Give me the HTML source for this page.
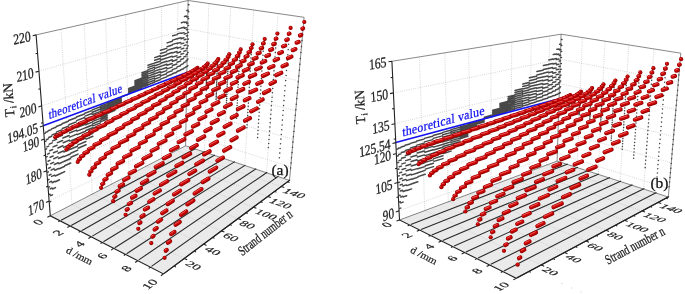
<!DOCTYPE html>
<html><head><meta charset="utf-8"><title>Strand tension 3D plots</title>
<style>
html,body{margin:0;padding:0;background:#fff}
body{width:685px;height:294px;overflow:hidden}
svg{display:block;font-family:"Liberation Serif",serif}
.r1{stroke:#960000;stroke-width:4.2;stroke-linecap:round;fill:none}
.r2{stroke:#ca0404;stroke-width:2.9;stroke-linecap:round;fill:none}
.r3{stroke:#ee5555;stroke-width:1;stroke-linecap:round;fill:none}
</style></head><body>
<svg width="685" height="294" viewBox="0 0 685 294">
<rect width="685" height="294" fill="#fff"/>
<polygon points="50.3,215.8 163.5,273.9 289.5,180.4 185.6,145.8" fill="#eaeaea"/>
<path d="M72,204.5 L184.3,258.4 M72,204.5 L61,29.2 M92.3,194 L203.6,244.1 M92.3,194 L84.2,24 M111.3,184.2 L221.4,230.9 M111.3,184.2 L105.6,19.2 M129.1,175 L238,218.6 M129.1,175 L125.6,14.6 M145.8,166.4 L253.4,207.2 M145.8,166.4 L144.2,10.4 M161.5,158.2 L267.8,196.5 M161.5,158.2 L161.6,6.5 M176.4,150.5 L281.2,186.5 M176.4,150.5 L178,2.8 M70.1,226 L204.4,152 M204.4,152 L208.8,3.5 M91.2,236.8 L224.1,158.6 M224.1,158.6 L230.7,6.7 M113.7,248.4 L244.8,165.5 M244.8,165.5 L253.8,10 M137.7,260.7 L266.5,172.7 M266.5,172.7 L278.2,13.6 M49.1,201.1 L185.8,133.7 L290.7,166.9 M46.7,170.7 L186.2,108.8 L293.2,139.3 M44.2,139 L186.7,83.1 L295.7,110.6 M41.6,105.8 L187.1,56.5 L298.4,80.7 M38.9,71.2 L187.6,29 L301.2,49.7" fill="none" stroke="#c4c4c4" stroke-width="0.7" stroke-dasharray="1 1.2"/>
<path d="M36.1,34.9 L188.1,0.5 L304.1,17.3 L289.5,180.4 M188.1,0.5 L185.6,145.8 M50.3,215.8 L185.6,145.8 L289.5,180.4" fill="none" stroke="#555" stroke-width="0.7"/>
<path d="M61.1,220.2 L195.6,148.5 M71.2,225.4 L205,151.6 M81.6,230.7 L214.8,154.9 M92.3,236.1 L224.7,158.2 M103.4,241.8 L234.9,161.6 M114.8,247.7 L245.4,165.1 M126.6,253.7 L256.2,168.6 M138.8,259.9 L267.2,172.3 M151.5,266.4 L278.5,176.1 M164.5,273.1 L290.1,179.9" fill="none" stroke="#2a2a2a" stroke-width="1.1"/>
<path d="M44.7,133.4 L45.4,133.1 M45.8,132.3 L47.7,131.6 M48.2,130.8 L51.2,129.6 M51.6,128.9 L55.9,127.3 M56.3,126.5 L61.6,124.5 M62,123.7 L68.3,121.3 M68.7,120.5 L76,117.8 M76.4,117 L84.5,114 M84.9,113.2 L91.8,110.6 M92.2,109.9 L99.9,107 M100.3,106.3 L106.8,103.8 M107.2,103.1 L114.6,100.4 M114.9,99.7 L121.1,97.4 M121.5,96.7 L128.5,94.1 M128.9,93.4 L134.8,91.2 M135.1,90.5 L141.8,88.1 M142.1,87.4 L147.8,85.3 M148.1,84.7 L154.5,82.3 M154.8,81.7 L160.2,79.7 M160.5,79.1 L166.6,76.9 M166.9,76.2 L172.1,74.3 M172.4,73.7 L176.7,72.2 M177,71.5 L180.5,70.3 M180.8,69.7 L183.5,68.7 M183.8,68.1 L185.7,67.4 M186,66.8 L187.2,66.4 M187.5,65.8 L187.9,65.6 M45.3,141.3 L46,141.1 M46.4,139.7 L48.3,138.9 M48.7,137.5 L51.7,136.3 M52.1,134.9 L56.3,133.3 M56.7,131.9 L61.9,129.9 M62.3,128.5 L68.6,126.1 M68.9,124.7 L76.2,121.9 M76.6,120.6 L84.7,117.5 M85,116.1 L91.9,113.5 M92.3,112.2 L100,109.3 M100.4,108 L106.9,105.5 M107.2,104.3 L114.6,101.5 M114.9,100.2 L121.2,97.9 M121.5,96.7 L128.5,94.1 M128.8,92.9 L134.8,90.7 M135.1,89.4 L141.8,87 M142.1,85.8 L147.8,83.7 M148.1,82.5 L154.5,80.2 M154.8,79 L160.2,77.1 M160.5,75.9 L166.6,73.7 M167,72.6 L172.1,70.7 M172.4,69.6 L176.7,68.1 M177.1,66.9 L180.5,65.7 M180.9,64.6 L183.5,63.6 M183.9,62.5 L185.8,61.9 M186.1,60.7 L187.3,60.3 M187.6,59.2 L188,59.1 M45.9,149.2 L46.6,148.9 M46.9,146.9 L48.8,146.1 M49.2,144.1 L52.2,142.9 M52.5,140.9 L56.7,139.3 M57,137.3 L62.3,135.2 M62.6,133.3 L68.9,130.8 M69.2,128.8 L76.4,126 M76.7,124.1 L84.9,120.9 M85.2,119 L92,116.4 M92.4,114.5 L100.1,111.6 M100.4,109.7 L106.9,107.2 M107.3,105.4 L114.6,102.6 M115,100.8 L121.2,98.5 M121.5,96.7 L128.5,94.1 M128.8,92.3 L134.8,90.1 M135.1,88.4 L141.8,85.9 M142.1,84.2 L147.8,82.1 M148.1,80.4 L154.5,78.1 M154.8,76.4 L160.2,74.5 M160.5,72.8 L166.6,70.6 M167,68.9 L172.2,67.1 M172.5,65.5 L176.8,64 M177.1,62.3 L180.6,61.1 M180.9,59.5 L183.6,58.6 M183.9,56.9 L185.9,56.3 M186.2,54.6 L187.4,54.2 M187.7,52.6 L188.1,52.5 M46.5,156.9 L47.2,156.6 M47.5,154.1 L49.4,153.3 M49.7,150.7 L52.7,149.5 M53,146.9 L57.1,145.2 M57.4,142.6 L62.6,140.5 M62.9,138 L69.2,135.5 M69.4,133 L76.6,130.1 M76.9,127.6 L85,124.4 M85.3,121.9 L92.2,119.3 M92.5,116.8 L100.2,113.8 M100.5,111.4 L107,108.9 M107.3,106.5 L114.7,103.7 M115,101.4 L121.2,99 M121.5,96.7 L128.5,94.1 M128.8,91.8 L134.8,89.6 M135.1,87.3 L141.8,84.8 M142.1,82.5 L147.8,80.5 M148.1,78.2 L154.5,76 M154.8,73.7 L160.2,71.8 M160.5,69.6 L166.7,67.5 M167,65.3 L172.2,63.5 M172.5,61.3 L176.8,59.8 M177.2,57.7 L180.7,56.5 M181,54.3 L183.7,53.4 M184,51.3 L186,50.6 M186.3,48.5 L187.5,48.1 M187.8,46 L188.2,45.8 M47.1,164.6 L47.8,164.3 M48,161.2 L49.9,160.4 M50.1,157.2 L53.2,156 M53.4,152.8 L57.5,151.1 M57.8,148 L63,145.8 M63.2,142.7 L69.4,140.1 M69.7,137.1 L76.9,134.1 M77.1,131.1 L85.2,127.9 M85.5,124.8 L92.3,122.1 M92.6,119.1 L100.3,116.1 M100.6,113.1 L107.1,110.6 M107.4,107.6 L114.7,104.9 M115,101.9 L121.2,99.6 M121.5,96.7 L128.5,94.1 M128.8,91.2 L134.8,89 M135.1,86.2 L141.8,83.8 M142.1,80.9 L147.7,78.9 M148.1,76.1 L154.5,73.8 M154.8,71.1 L160.2,69.2 M160.5,66.4 L166.7,64.3 M167,61.6 L172.2,59.8 M172.5,57.1 L176.9,55.7 M177.2,53 L180.7,51.8 M181.1,49.1 L183.8,48.3 M184.1,45.6 L186.1,45 M186.4,42.3 L187.6,41.9 M187.9,39.2 L188.4,39.1 M47.7,172.2 L48.4,171.9 M48.6,168.2 L50.4,167.4 M50.6,163.7 L53.6,162.4 M53.8,158.7 L57.9,156.9 M58.1,153.2 L63.3,151 M63.5,147.4 L69.7,144.8 M69.9,141.1 L77.1,138.2 M77.3,134.6 L85.4,131.3 M85.6,127.7 L92.4,125 M92.7,121.4 L100.4,118.4 M100.6,114.8 L107.1,112.3 M107.4,108.8 L114.7,106 M115,102.5 L121.2,100.1 M121.5,96.7 L128.5,94.1 M128.8,90.7 L134.7,88.5 M135,85.1 L141.7,82.7 M142,79.3 L147.7,77.3 M148,73.9 L154.5,71.7 M154.8,68.4 L160.2,66.5 M160.5,63.2 L166.7,61.2 M167,57.9 L172.2,56.2 M172.6,52.9 L176.9,51.5 M177.3,48.3 L180.8,47.1 M181.1,43.9 L183.8,43.1 M184.2,39.8 L186.1,39.3 M186.5,36 L187.7,35.7 M188,32.5 L188.5,32.3 M48.3,179.7 L49,179.4 M49.1,175.2 L51,174.3 M51.1,170.1 L54.1,168.8 M54.3,164.5 L58.3,162.7 M58.5,158.5 L63.7,156.2 M63.8,152 L70,149.4 M70.2,145.2 L77.3,142.2 M77.5,138 L85.5,134.7 M85.8,130.5 L92.6,127.8 M92.8,123.7 L100.4,120.6 M100.7,116.5 L107.2,114 M107.4,109.9 L114.8,107.1 M115,103 L121.2,100.7 M121.5,96.7 L128.5,94.1 M128.8,90.1 L134.7,87.9 M135,84 L141.7,81.6 M142,77.7 L147.7,75.7 M148,71.8 L154.4,69.6 M154.8,65.7 L160.2,63.9 M160.5,60 L166.7,58 M167,54.2 L172.3,52.5 M172.6,48.7 L177,47.3 M177.3,43.5 L180.8,42.4 M181.2,38.7 L183.9,37.8 M184.3,34.1 L186.2,33.5 M186.6,29.7 L187.8,29.4 M188.2,25.6 L188.6,25.5 M48.9,187.2 L49.5,186.9 M49.6,182.1 L51.5,181.2 M51.6,176.4 L54.6,175.1 M54.7,170.3 L58.7,168.5 M58.9,163.7 L64,161.4 M64.1,156.6 L70.3,154 M70.4,149.2 L77.5,146.2 M77.7,141.4 L85.7,138.1 M85.9,133.4 L92.7,130.6 M92.9,125.9 L100.5,122.9 M100.8,118.2 L107.2,115.6 M107.5,111 L114.8,108.2 M115,103.6 L121.2,101.2 M121.5,96.7 L128.5,94.1 M128.8,89.5 L134.7,87.4 M135,82.9 L141.7,80.5 M142,76 L147.7,74 M148,69.6 L154.4,67.4 M154.8,63 L160.2,61.2 M160.5,56.8 L166.7,54.8 M167,50.4 L172.3,48.8 M172.6,44.4 L177,43.1 M177.4,38.7 L180.9,37.7 M181.3,33.4 L184,32.6 M184.4,28.3 L186.3,27.7 M186.7,23.4 L187.9,23.1 M188.3,18.7 L188.7,18.6 M49.4,194.5 L50.1,194.2 M50.2,188.9 L52,188 M52.1,182.7 L55,181.3 M55.1,176 L59.1,174.2 M59.2,168.8 L64.3,166.5 M64.4,161.2 L70.6,158.5 M70.7,153.2 L77.8,150.1 M77.9,144.9 L85.9,141.5 M86,136.2 L92.8,133.4 M93,128.2 L100.6,125.1 M100.8,119.9 L107.3,117.3 M107.5,112.1 L114.8,109.3 M115.1,104.2 L121.3,101.8 M121.5,96.7 L128.5,94.1 M128.8,89 L134.7,86.8 M135,81.8 L141.7,79.4 M142,74.4 L147.7,72.4 M148,67.4 L154.4,65.3 M154.7,60.3 L160.2,58.5 M160.5,53.5 L166.7,51.6 M167.1,46.7 L172.3,45 M172.7,40.1 L177.1,38.8 M177.4,33.9 L181,32.9 M181.3,28 L184.1,27.3 M184.5,22.4 L186.4,21.9 M186.8,17 L188,16.7 M188.4,11.8 L188.8,11.7 M50,201.8 L50.7,201.5 M50.7,195.7 L52.5,194.8 M52.5,189 L55.5,187.6 M55.5,181.7 L59.5,179.8 M59.6,174 L64.7,171.6 M64.7,165.8 L70.8,163 M70.9,157.2 L78,154.1 M78.1,148.3 L86.1,144.8 M86.2,139.1 L92.9,136.2 M93.1,130.4 L100.7,127.3 M100.9,121.6 L107.4,119 M107.6,113.3 L114.9,110.4 M115.1,104.7 L121.3,102.4 M121.5,96.7 L128.5,94.1 M128.8,88.4 L134.7,86.3 M135,80.7 L141.7,78.3 M142,72.7 L147.7,70.8 M148,65.2 L154.4,63.1 M154.7,57.6 L160.2,55.8 M160.5,50.3 L166.7,48.4 M167.1,42.9 L172.3,41.3 M172.7,35.8 L177.1,34.6 M177.5,29.1 L181,28.1 M181.4,22.7 L184.2,21.9 M184.5,16.5 L186.5,16 M186.9,10.5 L188.1,10.2 M188.5,4.8 L189,4.7" fill="none" stroke="#484848" stroke-width="1.5" stroke-linecap="round"/>
<path d="M196.4,81.3 h0 M196.5,80.8 h0 M196.5,80.3 h0 M196.5,79.8 h0 M196.5,79.3 h0 M196.5,78.8 h0 M196.5,78.3 h0 M196.5,77.8 h0 M196.5,77.3 h0 M196.5,76.8 h0 M196.6,76.3 h0 M196.6,75.8 h0 M196.6,75.3 h0 M196.6,74.8 h0 M196.6,74.3 h0 M196.6,73.8 h0 M196.6,73.3 h0 M196.6,72.8 h0 M196.6,72.3 h0 M196.7,71.7 h0 M196.7,71.2 h0 M196.7,70.7 h0 M196.7,70.2 h0 M196.7,69.7 h0 M196.7,69.2 h0 M196.7,68.7 h0 M196.7,68.2 h0 M206.2,90.3 h0 M206.2,89.3 h0 M206.3,88.3 h0 M206.3,87.3 h0 M206.3,86.3 h0 M206.3,85.3 h0 M206.4,84.3 h0 M206.4,83.2 h0 M206.4,82.2 h0 M206.5,81.2 h0 M206.5,80.2 h0 M206.5,79.2 h0 M206.6,78.2 h0 M206.6,77.2 h0 M206.6,76.1 h0 M206.7,75.1 h0 M206.7,74.1 h0 M206.7,73.1 h0 M206.7,72 h0 M206.8,71 h0 M206.8,70 h0 M206.8,69 h0 M206.9,67.9 h0 M206.9,66.9 h0 M206.9,65.9 h0 M207,64.8 h0 M207,63.8 h0 M216.1,99.4 h0 M216.2,97.9 h0 M216.2,96.4 h0 M216.3,94.9 h0 M216.3,93.4 h0 M216.4,91.9 h0 M216.5,90.3 h0 M216.5,88.8 h0 M216.6,87.3 h0 M216.6,85.8 h0 M216.7,84.2 h0 M216.7,82.7 h0 M216.8,81.1 h0 M216.8,79.6 h0 M216.9,78 h0 M217,76.5 h0 M217,74.9 h0 M217.1,73.4 h0 M217.1,71.8 h0 M217.2,70.3 h0 M217.2,68.7 h0 M217.3,67.1 h0 M217.4,65.6 h0 M217.4,64 h0 M217.5,62.4 h0 M217.5,60.8 h0 M217.6,59.2 h0 M226.2,108.7 h0 M226.3,106.7 h0 M226.4,104.7 h0 M226.5,102.7 h0 M226.6,100.6 h0 M226.7,98.6 h0 M226.7,96.5 h0 M226.8,94.5 h0 M226.9,92.4 h0 M227,90.4 h0 M227.1,88.3 h0 M227.2,86.3 h0 M227.3,84.2 h0 M227.4,82.1 h0 M227.5,80 h0 M227.6,77.9 h0 M227.6,75.8 h0 M227.7,73.7 h0 M227.8,71.6 h0 M227.9,69.5 h0 M228,67.4 h0 M228.1,65.3 h0 M228.2,63.1 h0 M228.3,61 h0 M228.4,58.8 h0 M228.5,56.7 h0 M228.6,54.5 h0 M236.5,118.2 h0 M236.6,115.6 h0 M236.7,113.1 h0 M236.9,110.6 h0 M237,108 h0 M237.1,105.5 h0 M237.3,102.9 h0 M237.4,100.3 h0 M237.5,97.7 h0 M237.7,95.1 h0 M237.8,92.5 h0 M237.9,89.9 h0 M238,87.3 h0 M238.2,84.7 h0 M238.3,82 h0 M238.5,79.4 h0 M238.6,76.7 h0 M238.7,74.1 h0 M238.9,71.4 h0 M239,68.7 h0 M239.1,66 h0 M239.3,63.3 h0 M239.4,60.6 h0 M239.5,57.9 h0 M239.7,55.1 h0 M239.8,52.4 h0 M240,49.6 h0 M246.9,127.8 h0 M247.1,124.8 h0 M247.3,121.7 h0 M247.5,118.6 h0 M247.6,115.6 h0 M247.8,112.5 h0 M248,109.4 h0 M248.2,106.3 h0 M248.4,103.1 h0 M248.5,100 h0 M248.7,96.8 h0 M248.9,93.7 h0 M249.1,90.5 h0 M249.3,87.3 h0 M249.5,84.1 h0 M249.7,80.9 h0 M249.8,77.7 h0 M250,74.4 h0 M250.2,71.2 h0 M250.4,67.9 h0 M250.6,64.6 h0 M250.8,61.3 h0 M251,58 h0 M251.2,54.6 h0 M251.4,51.3 h0 M251.6,47.9 h0 M251.8,44.6 h0 M257.6,137.6 h0 M257.8,134 h0 M258,130.5 h0 M258.3,126.9 h0 M258.5,123.3 h0 M258.7,119.6 h0 M259,116 h0 M259.2,112.3 h0 M259.5,108.7 h0 M259.7,105 h0 M259.9,101.3 h0 M260.2,97.5 h0 M260.4,93.8 h0 M260.7,90 h0 M260.9,86.2 h0 M261.2,82.4 h0 M261.4,78.6 h0 M261.7,74.8 h0 M261.9,70.9 h0 M262.2,67 h0 M262.4,63.1 h0 M262.7,59.2 h0 M263,55.3 h0 M263.2,51.3 h0 M263.5,47.3 h0 M263.7,43.3 h0 M264,39.3 h0 M268.4,147.5 h0 M268.7,143.5 h0 M269,139.4 h0 M269.3,135.3 h0 M269.6,131.1 h0 M269.9,127 h0 M270.2,122.8 h0 M270.5,118.6 h0 M270.8,114.3 h0 M271.1,110.1 h0 M271.4,105.8 h0 M271.8,101.5 h0 M272.1,97.2 h0 M272.4,92.8 h0 M272.7,88.4 h0 M273,84 h0 M273.4,79.6 h0 M273.7,75.1 h0 M274,70.7 h0 M274.3,66.2 h0 M274.7,61.6 h0 M275,57.1 h0 M275.3,52.5 h0 M275.7,47.9 h0 M276,43.2 h0 M276.4,38.6 h0 M276.7,33.9 h0 M279.4,157.7 h0 M279.8,153.1 h0 M280.1,148.5 h0 M280.5,143.8 h0 M280.9,139.1 h0 M281.3,134.4 h0 M281.7,129.7 h0 M282.1,124.9 h0 M282.4,120.1 h0 M282.8,115.3 h0 M283.2,110.4 h0 M283.6,105.6 h0 M284,100.6 h0 M284.4,95.7 h0 M284.8,90.7 h0 M285.2,85.7 h0 M285.7,80.6 h0 M286.1,75.5 h0 M286.5,70.4 h0 M286.9,65.2 h0 M287.3,60.1 h0 M287.8,54.8 h0 M288.2,49.6 h0 M288.6,44.3 h0 M289,39 h0 M289.5,33.6 h0 M289.9,28.2 h0 M290.6,168 h0 M291.1,162.9 h0 M291.5,157.7 h0 M292,152.6 h0 M292.5,147.3 h0 M292.9,142.1 h0 M293.4,136.8 h0 M293.9,131.4 h0 M294.4,126.1 h0 M294.8,120.7 h0 M295.3,115.2 h0 M295.8,109.7 h0 M296.3,104.2 h0 M296.8,98.6 h0 M297.3,93 h0 M297.8,87.4 h0 M298.3,81.7 h0 M298.8,75.9 h0 M299.4,70.1 h0 M299.9,64.3 h0 M300.4,58.4 h0 M300.9,52.5 h0 M301.5,46.6 h0 M302,40.6 h0 M302.6,34.5 h0 M303.1,28.4 h0 M303.7,22.3 h0" fill="none" stroke="#444" stroke-width="1.55" stroke-linecap="round"/>
<path d="M43.2,125.7 L186.8,72.5" stroke="#1414f0" stroke-width="1.6" fill="none"/>
<text transform="matrix(0.769 -0.285 0.059 0.948 48.9 119.2)" font-size="13.6" text-anchor="start" y="0" fill="#1414f0" stroke="#1414f0" stroke-width="0.3" letter-spacing="0.35">theoretical value</text>
<path d="M36.1,34.9 L50.3,215.8 L163.5,273.9 L289.5,180.4 M49.1,201.1 L46,202.6 M46.7,170.7 L43.5,172.1 M44.2,139 L41,140.2 M41.6,105.8 L38.3,106.9 M38.9,71.2 L35.5,72.1 M36.1,34.9 L32.7,35.7 M43.2,125.7 L39.9,126.9 M47.9,186 L46.1,186.9 M45.5,155 L43.6,155.8 M42.9,122.6 L41.1,123.3 M40.3,88.7 L38.4,89.3 M37.5,53.2 L35.6,53.7 M50.3,215.8 L47.4,217.3 M60,220.8 L58.3,221.7 M70.1,226 L67.3,227.5 M80.5,231.3 L78.7,232.3 M91.2,236.8 L88.4,238.4 M102.2,242.5 L100.5,243.5 M113.7,248.4 L111,250.1 M125.5,254.4 L123.8,255.5 M137.7,260.7 L135.1,262.5 M150.4,267.2 L148.7,268.4 M163.5,273.9 L160.9,275.8 M174.1,266 L175.9,266.9 M184.3,258.4 L187.2,259.8 M194.2,251.1 L196,252 M203.6,244.1 L206.5,245.4 M212.7,237.4 L214.5,238.2 M221.4,230.9 L224.4,232.1 M229.9,224.6 L231.7,225.4 M238,218.6 L241,219.8 M245.8,212.8 L247.7,213.5 M253.4,207.2 L256.4,208.3 M260.7,201.7 L262.6,202.4 M267.8,196.5 L270.8,197.6 M274.6,191.4 L276.5,192.1 M281.2,186.5 L284.2,187.6 M287.6,181.8 L289.5,182.4" fill="none" stroke="#222" stroke-width="1.1"/>
<text transform="matrix(0.695 -0.343 0.076 0.967 44.5 208.3)" font-size="15.3" text-anchor="end" y="0" fill="#222" stroke="#222" stroke-width="0.3">170</text>
<text transform="matrix(0.708 -0.314 0.076 0.967 42.1 177.7)" font-size="15.3" text-anchor="end" y="0" fill="#222" stroke="#222" stroke-width="0.3">180</text>
<text transform="matrix(0.722 -0.283 0.076 0.967 39.5 145.8)" font-size="15.3" text-anchor="end" y="0" fill="#222" stroke="#222" stroke-width="0.3">190</text>
<text transform="matrix(0.734 -0.249 0.076 0.967 36.8 112.4)" font-size="15.3" text-anchor="end" y="0" fill="#222" stroke="#222" stroke-width="0.3">200</text>
<text transform="matrix(0.746 -0.211 0.076 0.967 34 77.5)" font-size="15.3" text-anchor="end" y="0" fill="#222" stroke="#222" stroke-width="0.3">210</text>
<text transform="matrix(0.756 -0.171 0.076 0.967 31.1 40.9)" font-size="15.3" text-anchor="end" y="0" fill="#222" stroke="#222" stroke-width="0.3">220</text>
<text transform="matrix(0.727 -0.269 0.076 0.967 38.4 132.4)" font-size="15.3" text-anchor="end" y="0" fill="#222" stroke="#222" stroke-width="0.3">194.05</text>
<text transform="matrix(-0.068 -0.867 0.895 -0.090 13.3 99.6)" font-size="15.3" text-anchor="middle" y="0" fill="#222" stroke="#222" stroke-width="0.3">T<tspan font-size="10" dy="2.5">i</tspan><tspan dy="-2.5"> /kN</tspan></text>
<text transform="matrix(0.782 -0.404 0.667 0.343 44.5 222.4)" font-size="15.3" text-anchor="end" y="0" fill="#222" stroke="#222" stroke-width="0.3">0</text>
<text transform="matrix(0.771 -0.425 0.667 0.343 64.4 232.9)" font-size="15.3" text-anchor="end" y="0" fill="#222" stroke="#222" stroke-width="0.3">2</text>
<text transform="matrix(0.758 -0.446 0.667 0.343 85.7 244)" font-size="15.3" text-anchor="end" y="0" fill="#222" stroke="#222" stroke-width="0.3">4</text>
<text transform="matrix(0.744 -0.470 0.667 0.343 108.4 255.8)" font-size="15.3" text-anchor="end" y="0" fill="#222" stroke="#222" stroke-width="0.3">6</text>
<text transform="matrix(0.727 -0.496 0.667 0.343 132.6 268.4)" font-size="15.3" text-anchor="end" y="0" fill="#222" stroke="#222" stroke-width="0.3">8</text>
<text transform="matrix(0.707 -0.524 0.667 0.343 158.6 282)" font-size="15.3" text-anchor="end" y="0" fill="#222" stroke="#222" stroke-width="0.3">10</text>
<text transform="matrix(0.640 0.329 -0.330 0.574 77.8 258.7)" font-size="15.3" text-anchor="middle" y="0" fill="#222" stroke="#222" stroke-width="0.3">d /mm</text>
<text transform="matrix(0.830 0.398 -0.530 0.393 184.5 264.4)" font-size="15.3" text-anchor="start" y="0" fill="#222" stroke="#222" stroke-width="0.3">20</text>
<text transform="matrix(0.839 0.377 -0.530 0.393 203.8 250)" font-size="15.3" text-anchor="start" y="0" fill="#222" stroke="#222" stroke-width="0.3">40</text>
<text transform="matrix(0.847 0.359 -0.530 0.393 221.7 236.6)" font-size="15.3" text-anchor="start" y="0" fill="#222" stroke="#222" stroke-width="0.3">60</text>
<text transform="matrix(0.854 0.342 -0.530 0.393 238.3 224.2)" font-size="15.3" text-anchor="start" y="0" fill="#222" stroke="#222" stroke-width="0.3">80</text>
<text transform="matrix(0.860 0.326 -0.530 0.393 253.7 212.7)" font-size="15.3" text-anchor="start" y="0" fill="#222" stroke="#222" stroke-width="0.3">100</text>
<text transform="matrix(0.866 0.312 -0.530 0.393 268.1 201.9)" font-size="15.3" text-anchor="start" y="0" fill="#222" stroke="#222" stroke-width="0.3">120</text>
<text transform="matrix(0.870 0.299 -0.530 0.393 281.6 191.9)" font-size="15.3" text-anchor="start" y="0" fill="#222" stroke="#222" stroke-width="0.3">140</text>
<text transform="matrix(0.502 -0.397 0.533 0.725 267.8 236.1)" font-size="15.3" text-anchor="middle" y="0" fill="#222" stroke="#222" stroke-width="0.3">Strand number n</text>
<text x="280" y="174.7" font-size="15.5" text-anchor="middle" fill="#111" stroke="#111" stroke-width="0.25">(a)</text>
<path d="M197.5,67.9 L197.5,67.9" class="r1"/><path d="M197.3,67.7 L197.3,67.7" class="r2"/><path d="M196.9,67.2 L196.9,67.2" class="r3"/>
<path d="M196,69 L196.7,68.7" class="r1"/><path d="M195.8,68.7 L196.5,68.5" class="r2"/><path d="M195.5,68.2 L196.2,68" class="r3"/>
<path d="M193.8,70.3 L195.3,69.8" class="r1"/><path d="M193.6,70.1 L195.1,69.5" class="r2"/><path d="M193.3,69.6 L194.7,69" class="r3"/>
<path d="M190.8,71.9 L193.1,71.1" class="r1"/><path d="M190.6,71.7 L192.9,70.8" class="r2"/><path d="M190.3,71.2 L192.5,70.3" class="r3"/>
<path d="M187.1,73.8 L190.1,72.7" class="r1"/><path d="M186.9,73.6 L189.9,72.5" class="r2"/><path d="M186.5,73.1 L189.5,72" class="r3"/>
<path d="M182.5,76 L186.3,74.6" class="r1"/><path d="M182.3,75.8 L186.1,74.4" class="r2"/><path d="M182,75.3 L185.8,73.9" class="r3"/>
<path d="M177.1,78.6 L181.7,76.9" class="r1"/><path d="M176.9,78.4 L181.5,76.6" class="r2"/><path d="M176.5,77.9 L181.2,76.1" class="r3"/>
<path d="M170.7,81.5 L176.3,79.4" class="r1"/><path d="M170.5,81.3 L176.1,79.2" class="r2"/><path d="M170.2,80.8 L175.7,78.7" class="r3"/>
<path d="M165,84.2 L169.9,82.4" class="r1"/><path d="M164.8,83.9 L169.7,82.1" class="r2"/><path d="M164.5,83.4 L169.4,81.6" class="r3"/>
<path d="M158.4,87.2 L164.2,85" class="r1"/><path d="M158.2,87 L164,84.8" class="r2"/><path d="M157.8,86.5 L163.7,84.3" class="r3"/>
<path d="M152.4,90.1 L157.6,88.1" class="r1"/><path d="M152.2,89.8 L157.4,87.9" class="r2"/><path d="M151.9,89.3 L157,87.4" class="r3"/>
<path d="M145.5,93.3 L151.6,90.9" class="r1"/><path d="M145.3,93 L151.4,90.7" class="r2"/><path d="M144.9,92.5 L151,90.2" class="r3"/>
<path d="M139.2,96.2 L144.6,94.1" class="r1"/><path d="M139,95.9 L144.4,93.9" class="r2"/><path d="M138.7,95.4 L144,93.4" class="r3"/>
<path d="M131.9,99.5 L138.3,97.1" class="r1"/><path d="M131.7,99.3 L138.1,96.8" class="r2"/><path d="M131.4,98.8 L137.8,96.3" class="r3"/>
<path d="M125.3,102.6 L131,100.5" class="r1"/><path d="M125.1,102.4 L130.8,100.2" class="r2"/><path d="M124.8,101.9 L130.4,99.7" class="r3"/>
<path d="M117.7,106.2 L124.4,103.6" class="r1"/><path d="M117.5,105.9 L124.2,103.3" class="r2"/><path d="M117.1,105.4 L123.9,102.8" class="r3"/>
<path d="M110.8,109.4 L116.7,107.1" class="r1"/><path d="M110.6,109.2 L116.5,106.9" class="r2"/><path d="M110.2,108.7 L116.2,106.4" class="r3"/>
<path d="M102.7,113.1 L109.8,110.4" class="r1"/><path d="M102.5,112.9 L109.6,110.1" class="r2"/><path d="M102.1,112.4 L109.2,109.6" class="r3"/>
<path d="M95.4,116.5 L101.7,114.1" class="r1"/><path d="M95.2,116.3 L101.5,113.9" class="r2"/><path d="M94.9,115.8 L101.1,113.4" class="r3"/>
<path d="M86.9,120.4 L94.4,117.5" class="r1"/><path d="M86.7,120.2 L94.2,117.3" class="r2"/><path d="M86.4,119.7 L93.8,116.8" class="r3"/>
<path d="M79.3,124 L85.9,121.5" class="r1"/><path d="M79.1,123.8 L85.7,121.2" class="r2"/><path d="M78.7,123.3 L85.3,120.7" class="r3"/>
<path d="M72.6,127.3 L78.2,125.1" class="r1"/><path d="M72.4,127 L78,124.8" class="r2"/><path d="M72,126.5 L77.6,124.3" class="r3"/>
<path d="M66.9,130.1 L71.5,128.3" class="r1"/><path d="M66.7,129.9 L71.3,128.1" class="r2"/><path d="M66.3,129.4 L70.9,127.6" class="r3"/>
<path d="M62.2,132.6 L65.7,131.2" class="r1"/><path d="M62,132.3 L65.5,131" class="r2"/><path d="M61.7,131.8 L65.2,130.5" class="r3"/>
<path d="M58.7,134.6 L61.1,133.7" class="r1"/><path d="M58.5,134.3 L60.9,133.4" class="r2"/><path d="M58.2,133.8 L60.6,132.9" class="r3"/>
<path d="M56.4,136.1 L57.6,135.7" class="r1"/><path d="M56.2,135.9 L57.4,135.4" class="r2"/><path d="M55.9,135.4 L57.1,134.9" class="r3"/>
<path d="M55.3,137.2 L55.3,137.2" class="r1"/><path d="M55.1,137 L55.1,137" class="r2"/><path d="M54.7,136.5 L54.7,136.5" class="r3"/>
<path d="M207.7,63.5 L207.7,63.5" class="r1"/><path d="M207.5,63.3 L207.5,63.3" class="r2"/><path d="M207.2,62.8 L207.2,62.8" class="r3"/>
<path d="M206.2,65.1 L207,64.8" class="r1"/><path d="M206,64.9 L206.8,64.6" class="r2"/><path d="M205.7,64.4 L206.4,64.1" class="r3"/>
<path d="M204,67 L205.5,66.4" class="r1"/><path d="M203.8,66.7 L205.3,66.2" class="r2"/><path d="M203.5,66.2 L204.9,65.7" class="r3"/>
<path d="M201.1,69.1 L203.3,68.3" class="r1"/><path d="M200.9,68.8 L203.1,68" class="r2"/><path d="M200.5,68.3 L202.7,67.5" class="r3"/>
<path d="M197.3,71.5 L200.3,70.4" class="r1"/><path d="M197.1,71.3 L200.1,70.2" class="r2"/><path d="M196.8,70.8 L199.7,69.7" class="r3"/>
<path d="M192.7,74.3 L196.5,72.9" class="r1"/><path d="M192.5,74.1 L196.3,72.6" class="r2"/><path d="M192.2,73.6 L196,72.1" class="r3"/>
<path d="M187.3,77.4 L192,75.7" class="r1"/><path d="M187.1,77.2 L191.8,75.4" class="r2"/><path d="M186.8,76.7 L191.4,74.9" class="r3"/>
<path d="M181,80.9 L186.5,78.8" class="r1"/><path d="M180.8,80.7 L186.3,78.5" class="r2"/><path d="M180.4,80.2 L186,78" class="r3"/>
<path d="M175.3,84.2 L180.2,82.3" class="r1"/><path d="M175.1,83.9 L180,82" class="r2"/><path d="M174.8,83.4 L179.6,81.5" class="r3"/>
<path d="M168.7,87.8 L174.5,85.6" class="r1"/><path d="M168.5,87.6 L174.3,85.3" class="r2"/><path d="M168.1,87.1 L173.9,84.8" class="r3"/>
<path d="M162.8,91.2 L167.9,89.2" class="r1"/><path d="M162.6,91 L167.7,89" class="r2"/><path d="M162.2,90.5 L167.3,88.5" class="r3"/>
<path d="M155.8,95 L161.9,92.6" class="r1"/><path d="M155.6,94.8 L161.7,92.4" class="r2"/><path d="M155.3,94.3 L161.4,91.9" class="r3"/>
<path d="M149.6,98.6 L154.9,96.5" class="r1"/><path d="M149.4,98.3 L154.7,96.2" class="r2"/><path d="M149.1,97.8 L154.4,95.7" class="r3"/>
<path d="M142.3,102.6 L148.7,100.1" class="r1"/><path d="M142.1,102.4 L148.5,99.8" class="r2"/><path d="M141.8,101.9 L148.2,99.3" class="r3"/>
<path d="M135.8,106.3 L141.4,104.1" class="r1"/><path d="M135.6,106.1 L141.2,103.9" class="r2"/><path d="M135.2,105.6 L140.9,103.4" class="r3"/>
<path d="M128.2,110.6 L134.9,107.9" class="r1"/><path d="M128,110.3 L134.7,107.6" class="r2"/><path d="M127.6,109.8 L134.3,107.1" class="r3"/>
<path d="M121.3,114.5 L127.2,112.1" class="r1"/><path d="M121.1,114.2 L127,111.9" class="r2"/><path d="M120.8,113.7 L126.7,111.4" class="r3"/>
<path d="M113.3,118.9 L120.3,116.1" class="r1"/><path d="M113.1,118.7 L120.1,115.8" class="r2"/><path d="M112.7,118.2 L119.8,115.3" class="r3"/>
<path d="M106.1,123 L112.3,120.5" class="r1"/><path d="M105.9,122.8 L112.1,120.3" class="r2"/><path d="M105.5,122.3 L111.7,119.8" class="r3"/>
<path d="M97.6,127.7 L105.1,124.7" class="r1"/><path d="M97.4,127.5 L104.9,124.4" class="r2"/><path d="M97.1,127 L104.5,123.9" class="r3"/>
<path d="M90,132 L96.6,129.4" class="r1"/><path d="M89.8,131.8 L96.4,129.1" class="r2"/><path d="M89.5,131.3 L96,128.6" class="r3"/>
<path d="M83.4,136 L89,133.7" class="r1"/><path d="M83.2,135.8 L88.8,133.5" class="r2"/><path d="M82.8,135.3 L88.4,133" class="r3"/>
<path d="M77.8,139.6 L82.3,137.7" class="r1"/><path d="M77.6,139.4 L82.1,137.5" class="r2"/><path d="M77.2,138.9 L81.8,137" class="r3"/>
<path d="M73.2,142.8 L76.7,141.3" class="r1"/><path d="M73,142.5 L76.5,141.1" class="r2"/><path d="M72.6,142 L76.1,140.6" class="r3"/>
<path d="M69.7,145.5 L72.1,144.5" class="r1"/><path d="M69.5,145.2 L71.9,144.3" class="r2"/><path d="M69.2,144.7 L71.5,143.8" class="r3"/>
<path d="M67.5,147.7 L68.6,147.2" class="r1"/><path d="M67.3,147.5 L68.4,147" class="r2"/><path d="M66.9,147 L68.1,146.5" class="r3"/>
<path d="M66.4,149.5 L66.4,149.5" class="r1"/><path d="M66.2,149.2 L66.2,149.2" class="r2"/><path d="M65.8,148.7 L65.8,148.7" class="r3"/>
<path d="M218.3,59 L218.3,59" class="r1"/><path d="M218.1,58.7 L218.1,58.7" class="r2"/><path d="M217.8,58.2 L217.8,58.2" class="r3"/>
<path d="M216.8,61.1 L217.5,60.8" class="r1"/><path d="M216.6,60.8 L217.3,60.6" class="r2"/><path d="M216.3,60.3 L217,60.1" class="r3"/>
<path d="M214.6,63.5 L216,63" class="r1"/><path d="M214.4,63.2 L215.8,62.7" class="r2"/><path d="M214,62.7 L215.5,62.2" class="r3"/>
<path d="M211.6,66.2 L213.8,65.4" class="r1"/><path d="M211.4,65.9 L213.6,65.1" class="r2"/><path d="M211.1,65.4 L213.3,64.6" class="r3"/>
<path d="M207.9,69.2 L210.8,68.1" class="r1"/><path d="M207.7,68.9 L210.6,67.8" class="r2"/><path d="M207.3,68.4 L210.3,67.3" class="r3"/>
<path d="M203.3,72.5 L207.1,71.1" class="r1"/><path d="M203.1,72.3 L206.9,70.8" class="r2"/><path d="M202.8,71.8 L206.5,70.3" class="r3"/>
<path d="M197.9,76.2 L202.5,74.4" class="r1"/><path d="M197.7,75.9 L202.3,74.2" class="r2"/><path d="M197.3,75.4 L201.9,73.7" class="r3"/>
<path d="M191.6,80.3 L197.1,78.1" class="r1"/><path d="M191.4,80 L196.9,77.9" class="r2"/><path d="M191,79.5 L196.5,77.4" class="r3"/>
<path d="M185.9,84.1 L190.7,82.2" class="r1"/><path d="M185.7,83.9 L190.5,82" class="r2"/><path d="M185.4,83.4 L190.2,81.5" class="r3"/>
<path d="M179.3,88.4 L185.1,86.1" class="r1"/><path d="M179.1,88.1 L184.9,85.8" class="r2"/><path d="M178.8,87.6 L184.5,85.3" class="r3"/>
<path d="M173.4,92.4 L178.5,90.4" class="r1"/><path d="M173.2,92.2 L178.3,90.1" class="r2"/><path d="M172.8,91.7 L177.9,89.6" class="r3"/>
<path d="M166.5,96.9 L172.5,94.4" class="r1"/><path d="M166.3,96.6 L172.3,94.2" class="r2"/><path d="M165.9,96.1 L172,93.7" class="r3"/>
<path d="M160.3,101.1 L165.6,98.9" class="r1"/><path d="M160.1,100.8 L165.4,98.7" class="r2"/><path d="M159.7,100.3 L165.1,98.2" class="r3"/>
<path d="M153,105.8 L159.4,103.2" class="r1"/><path d="M152.8,105.5 L159.2,102.9" class="r2"/><path d="M152.5,105 L158.8,102.4" class="r3"/>
<path d="M146.6,110.2 L152.1,107.9" class="r1"/><path d="M146.4,109.9 L151.9,107.6" class="r2"/><path d="M146,109.4 L151.6,107.1" class="r3"/>
<path d="M138.9,115.1 L145.6,112.3" class="r1"/><path d="M138.7,114.8 L145.4,112" class="r2"/><path d="M138.4,114.3 L145.1,111.5" class="r3"/>
<path d="M132.1,119.7 L138,117.2" class="r1"/><path d="M131.9,119.5 L137.8,117" class="r2"/><path d="M131.6,119 L137.5,116.5" class="r3"/>
<path d="M124.2,124.9 L131.2,121.9" class="r1"/><path d="M124,124.6 L131,121.6" class="r2"/><path d="M123.6,124.1 L130.6,121.1" class="r3"/>
<path d="M117,129.7 L123.2,127.1" class="r1"/><path d="M116.8,129.5 L123,126.8" class="r2"/><path d="M116.4,129 L122.6,126.3" class="r3"/>
<path d="M108.6,135.2 L116,132" class="r1"/><path d="M108.4,134.9 L115.8,131.7" class="r2"/><path d="M108.1,134.4 L115.5,131.2" class="r3"/>
<path d="M101.1,140.3 L107.6,137.4" class="r1"/><path d="M100.9,140 L107.4,137.2" class="r2"/><path d="M100.5,139.5 L107,136.7" class="r3"/>
<path d="M94.5,145 L100.1,142.6" class="r1"/><path d="M94.3,144.7 L99.9,142.3" class="r2"/><path d="M93.9,144.2 L99.5,141.8" class="r3"/>
<path d="M88.9,149.3 L93.4,147.3" class="r1"/><path d="M88.7,149.1 L93.2,147.1" class="r2"/><path d="M88.4,148.6 L92.9,146.6" class="r3"/>
<path d="M84.4,153.2 L87.9,151.7" class="r1"/><path d="M84.2,153 L87.7,151.4" class="r2"/><path d="M83.9,152.5 L87.3,150.9" class="r3"/>
<path d="M81,156.6 L83.3,155.6" class="r1"/><path d="M80.8,156.4 L83.1,155.4" class="r2"/><path d="M80.5,155.9 L82.8,154.9" class="r3"/>
<path d="M78.8,159.6 L79.9,159" class="r1"/><path d="M78.6,159.3 L79.7,158.8" class="r2"/><path d="M78.2,158.8 L79.4,158.3" class="r3"/>
<path d="M77.7,162 L77.7,162" class="r1"/><path d="M77.5,161.7 L77.5,161.7" class="r2"/><path d="M77.1,161.2 L77.1,161.2" class="r3"/>
<path d="M229.3,54.3 L229.3,54.3" class="r1"/><path d="M229.1,54 L229.1,54" class="r2"/><path d="M228.7,53.5 L228.7,53.5" class="r3"/>
<path d="M227.8,57 L228.5,56.7" class="r1"/><path d="M227.6,56.7 L228.3,56.4" class="r2"/><path d="M227.2,56.2 L227.9,55.9" class="r3"/>
<path d="M225.5,59.9 L227,59.4" class="r1"/><path d="M225.3,59.7 L226.8,59.1" class="r2"/><path d="M225,59.2 L226.4,58.6" class="r3"/>
<path d="M222.5,63.2 L224.7,62.3" class="r1"/><path d="M222.3,62.9 L224.5,62.1" class="r2"/><path d="M222,62.4 L224.2,61.6" class="r3"/>
<path d="M218.8,66.7 L221.7,65.6" class="r1"/><path d="M218.6,66.5 L221.5,65.4" class="r2"/><path d="M218.2,66 L221.2,64.9" class="r3"/>
<path d="M214.2,70.7 L217.9,69.2" class="r1"/><path d="M214,70.4 L217.7,68.9" class="r2"/><path d="M213.7,69.9 L217.4,68.4" class="r3"/>
<path d="M208.8,74.9 L213.4,73.1" class="r1"/><path d="M208.6,74.7 L213.2,72.9" class="r2"/><path d="M208.3,74.2 L212.8,72.4" class="r3"/>
<path d="M202.5,79.6 L208,77.4" class="r1"/><path d="M202.3,79.4 L207.8,77.2" class="r2"/><path d="M201.9,78.9 L207.4,76.7" class="r3"/>
<path d="M196.9,84.1 L201.6,82.1" class="r1"/><path d="M196.7,83.8 L201.4,81.9" class="r2"/><path d="M196.3,83.3 L201.1,81.4" class="r3"/>
<path d="M190.3,89 L196,86.6" class="r1"/><path d="M190.1,88.7 L195.8,86.4" class="r2"/><path d="M189.7,88.2 L195.4,85.9" class="r3"/>
<path d="M184.4,93.6 L189.4,91.6" class="r1"/><path d="M184.2,93.4 L189.2,91.3" class="r2"/><path d="M183.8,92.9 L188.8,90.8" class="r3"/>
<path d="M177.5,98.8 L183.5,96.3" class="r1"/><path d="M177.3,98.5 L183.3,96" class="r2"/><path d="M176.9,98 L182.9,95.5" class="r3"/>
<path d="M171.3,103.6 L176.6,101.4" class="r1"/><path d="M171.1,103.4 L176.4,101.2" class="r2"/><path d="M170.7,102.9 L176,100.7" class="r3"/>
<path d="M164.1,109 L170.4,106.3" class="r1"/><path d="M163.9,108.7 L170.2,106.1" class="r2"/><path d="M163.5,108.2 L169.8,105.6" class="r3"/>
<path d="M157.6,114.1 L163.2,111.7" class="r1"/><path d="M157.4,113.9 L163,111.5" class="r2"/><path d="M157.1,113.4 L162.6,111" class="r3"/>
<path d="M150.1,119.7 L156.7,116.9" class="r1"/><path d="M149.9,119.5 L156.5,116.6" class="r2"/><path d="M149.5,119 L156.1,116.1" class="r3"/>
<path d="M143.3,125.1 L149.1,122.5" class="r1"/><path d="M143.1,124.8 L148.9,122.3" class="r2"/><path d="M142.7,124.3 L148.6,121.8" class="r3"/>
<path d="M135.3,131 L142.3,127.9" class="r1"/><path d="M135.1,130.7 L142.1,127.6" class="r2"/><path d="M134.8,130.2 L141.8,127.1" class="r3"/>
<path d="M128.2,136.6 L134.4,133.8" class="r1"/><path d="M128,136.3 L134.2,133.6" class="r2"/><path d="M127.7,135.8 L133.8,133.1" class="r3"/>
<path d="M119.9,142.8 L127.2,139.5" class="r1"/><path d="M119.7,142.6 L127,139.2" class="r2"/><path d="M119.3,142.1 L126.7,138.7" class="r3"/>
<path d="M112.4,148.7 L118.9,145.7" class="r1"/><path d="M112.2,148.4 L118.7,145.5" class="r2"/><path d="M111.9,147.9 L118.3,145" class="r3"/>
<path d="M105.9,154.2 L111.4,151.7" class="r1"/><path d="M105.7,154 L111.2,151.4" class="r2"/><path d="M105.3,153.5 L110.9,150.9" class="r3"/>
<path d="M100.4,159.3 L104.9,157.2" class="r1"/><path d="M100.2,159 L104.7,157" class="r2"/><path d="M99.8,158.5 L104.3,156.5" class="r3"/>
<path d="M95.9,163.9 L99.3,162.3" class="r1"/><path d="M95.7,163.7 L99.1,162.1" class="r2"/><path d="M95.3,163.2 L98.8,161.6" class="r3"/>
<path d="M92.5,168.1 L94.9,167" class="r1"/><path d="M92.3,167.8 L94.7,166.7" class="r2"/><path d="M92,167.3 L94.3,166.2" class="r3"/>
<path d="M90.3,171.7 L91.5,171.1" class="r1"/><path d="M90.1,171.4 L91.3,170.9" class="r2"/><path d="M89.8,170.9 L90.9,170.4" class="r3"/>
<path d="M89.3,174.8 L89.3,174.8" class="r1"/><path d="M89.1,174.5 L89.1,174.5" class="r2"/><path d="M88.7,174 L88.7,174" class="r3"/>
<path d="M240.7,49.4 L240.7,49.4" class="r1"/><path d="M240.5,49.1 L240.5,49.1" class="r2"/><path d="M240.1,48.6 L240.1,48.6" class="r3"/>
<path d="M239.1,52.7 L239.8,52.4" class="r1"/><path d="M238.9,52.4 L239.6,52.1" class="r2"/><path d="M238.6,51.9 L239.3,51.6" class="r3"/>
<path d="M236.8,56.2 L238.3,55.7" class="r1"/><path d="M236.6,56 L238.1,55.4" class="r2"/><path d="M236.3,55.5 L237.7,54.9" class="r3"/>
<path d="M233.8,60.1 L236,59.2" class="r1"/><path d="M233.6,59.8 L235.8,59" class="r2"/><path d="M233.3,59.3 L235.4,58.5" class="r3"/>
<path d="M230,64.2 L233,63.1" class="r1"/><path d="M229.8,64 L232.8,62.8" class="r2"/><path d="M229.5,63.5 L232.4,62.3" class="r3"/>
<path d="M225.5,68.7 L229.2,67.3" class="r1"/><path d="M225.3,68.5 L229,67" class="r2"/><path d="M224.9,68 L228.6,66.5" class="r3"/>
<path d="M220.1,73.6 L224.6,71.8" class="r1"/><path d="M219.9,73.4 L224.4,71.6" class="r2"/><path d="M219.5,72.9 L224.1,71.1" class="r3"/>
<path d="M213.8,78.9 L219.2,76.7" class="r1"/><path d="M213.6,78.7 L219,76.5" class="r2"/><path d="M213.2,78.2 L218.6,76" class="r3"/>
<path d="M208.1,84 L212.9,82.1" class="r1"/><path d="M207.9,83.8 L212.7,81.8" class="r2"/><path d="M207.6,83.3 L212.3,81.3" class="r3"/>
<path d="M201.6,89.6 L207.2,87.2" class="r1"/><path d="M201.4,89.3 L207,87" class="r2"/><path d="M201,88.8 L206.7,86.5" class="r3"/>
<path d="M195.7,94.9 L200.7,92.8" class="r1"/><path d="M195.5,94.7 L200.5,92.5" class="r2"/><path d="M195.1,94.2 L200.1,92" class="r3"/>
<path d="M188.8,100.7 L194.8,98.1" class="r1"/><path d="M188.6,100.5 L194.6,97.9" class="r2"/><path d="M188.3,100 L194.2,97.4" class="r3"/>
<path d="M182.6,106.3 L187.9,104" class="r1"/><path d="M182.4,106 L187.7,103.7" class="r2"/><path d="M182.1,105.5 L187.3,103.2" class="r3"/>
<path d="M175.5,112.3 L181.7,109.6" class="r1"/><path d="M175.3,112.1 L181.5,109.3" class="r2"/><path d="M174.9,111.6 L181.2,108.8" class="r3"/>
<path d="M169,118.2 L174.5,115.7" class="r1"/><path d="M168.8,117.9 L174.3,115.4" class="r2"/><path d="M168.5,117.4 L174,114.9" class="r3"/>
<path d="M161.5,124.5 L168.1,121.5" class="r1"/><path d="M161.3,124.3 L167.9,121.3" class="r2"/><path d="M160.9,123.8 L167.5,120.8" class="r3"/>
<path d="M154.7,130.6 L160.5,127.9" class="r1"/><path d="M154.5,130.3 L160.3,127.7" class="r2"/><path d="M154.2,129.8 L160,127.2" class="r3"/>
<path d="M146.8,137.3 L153.8,134.1" class="r1"/><path d="M146.6,137 L153.6,133.8" class="r2"/><path d="M146.3,136.5 L153.2,133.3" class="r3"/>
<path d="M139.8,143.7 L145.9,140.8" class="r1"/><path d="M139.6,143.4 L145.7,140.5" class="r2"/><path d="M139.2,142.9 L145.3,140" class="r3"/>
<path d="M131.5,150.7 L138.8,147.2" class="r1"/><path d="M131.3,150.4 L138.6,146.9" class="r2"/><path d="M130.9,149.9 L138.2,146.4" class="r3"/>
<path d="M124.1,157.4 L130.5,154.3" class="r1"/><path d="M123.9,157.1 L130.3,154" class="r2"/><path d="M123.5,156.6 L129.9,153.5" class="r3"/>
<path d="M117.6,163.7 L123.1,161" class="r1"/><path d="M117.4,163.4 L122.9,160.7" class="r2"/><path d="M117,162.9 L122.5,160.2" class="r3"/>
<path d="M112.1,169.5 L116.6,167.3" class="r1"/><path d="M111.9,169.3 L116.4,167.1" class="r2"/><path d="M111.5,168.8 L116,166.6" class="r3"/>
<path d="M107.7,174.9 L111.1,173.2" class="r1"/><path d="M107.5,174.7 L110.9,173" class="r2"/><path d="M107.1,174.2 L110.5,172.5" class="r3"/>
<path d="M104.3,179.8 L106.6,178.6" class="r1"/><path d="M104.1,179.5 L106.4,178.4" class="r2"/><path d="M103.8,179 L106.1,177.9" class="r3"/>
<path d="M102.2,184.1 L103.3,183.5" class="r1"/><path d="M102,183.8 L103.1,183.2" class="r2"/><path d="M101.6,183.3 L102.8,182.7" class="r3"/>
<path d="M101.1,187.8 L101.1,187.8" class="r1"/><path d="M100.9,187.6 L100.9,187.6" class="r2"/><path d="M100.6,187.1 L100.6,187.1" class="r3"/>
<path d="M252.5,44.3 L252.5,44.3" class="r1"/><path d="M252.3,44.1 L252.3,44.1" class="r2"/><path d="M251.9,43.6 L251.9,43.6" class="r3"/>
<path d="M250.9,48.2 L251.6,47.9" class="r1"/><path d="M250.7,48 L251.4,47.7" class="r2"/><path d="M250.3,47.5 L251,47.2" class="r3"/>
<path d="M248.5,52.4 L250,51.8" class="r1"/><path d="M248.3,52.1 L249.8,51.6" class="r2"/><path d="M248,51.6 L249.4,51.1" class="r3"/>
<path d="M245.5,56.8 L247.6,56" class="r1"/><path d="M245.3,56.6 L247.4,55.8" class="r2"/><path d="M245,56.1 L247.1,55.3" class="r3"/>
<path d="M241.7,61.6 L244.6,60.5" class="r1"/><path d="M241.5,61.4 L244.4,60.2" class="r2"/><path d="M241.2,60.9 L244.1,59.7" class="r3"/>
<path d="M237.1,66.8 L240.8,65.3" class="r1"/><path d="M236.9,66.5 L240.6,65" class="r2"/><path d="M236.6,66 L240.3,64.5" class="r3"/>
<path d="M231.7,72.3 L236.2,70.4" class="r1"/><path d="M231.5,72 L236,70.2" class="r2"/><path d="M231.2,71.5 L235.7,69.7" class="r3"/>
<path d="M225.4,78.2 L230.8,76" class="r1"/><path d="M225.2,78 L230.6,75.8" class="r2"/><path d="M224.9,77.5 L230.3,75.3" class="r3"/>
<path d="M219.8,84 L224.5,82" class="r1"/><path d="M219.6,83.7 L224.3,81.8" class="r2"/><path d="M219.2,83.2 L224,81.3" class="r3"/>
<path d="M213.2,90.2 L218.9,87.8" class="r1"/><path d="M213,90 L218.7,87.5" class="r2"/><path d="M212.7,89.5 L218.3,87" class="r3"/>
<path d="M207.3,96.2 L212.3,94.1" class="r1"/><path d="M207.1,96 L212.1,93.8" class="r2"/><path d="M206.8,95.5 L211.7,93.3" class="r3"/>
<path d="M200.5,102.7 L206.4,100.1" class="r1"/><path d="M200.3,102.5 L206.2,99.8" class="r2"/><path d="M199.9,102 L205.9,99.3" class="r3"/>
<path d="M194.3,109 L199.5,106.6" class="r1"/><path d="M194.1,108.7 L199.3,106.4" class="r2"/><path d="M193.8,108.2 L199,105.9" class="r3"/>
<path d="M187.2,115.8 L193.4,112.9" class="r1"/><path d="M187,115.5 L193.2,112.7" class="r2"/><path d="M186.6,115 L192.8,112.2" class="r3"/>
<path d="M180.8,122.3 L186.2,119.8" class="r1"/><path d="M180.6,122.1 L186,119.5" class="r2"/><path d="M180.2,121.6 L185.7,119" class="r3"/>
<path d="M173.3,129.4 L179.8,126.4" class="r1"/><path d="M173.1,129.2 L179.6,126.1" class="r2"/><path d="M172.7,128.7 L179.2,125.6" class="r3"/>
<path d="M166.5,136.3 L172.3,133.5" class="r1"/><path d="M166.3,136 L172.1,133.3" class="r2"/><path d="M166,135.5 L171.7,132.8" class="r3"/>
<path d="M158.7,143.8 L165.6,140.4" class="r1"/><path d="M158.5,143.5 L165.4,140.2" class="r2"/><path d="M158.1,143 L165,139.7" class="r3"/>
<path d="M151.6,150.9 L157.7,147.9" class="r1"/><path d="M151.4,150.7 L157.5,147.7" class="r2"/><path d="M151.1,150.2 L157.1,147.2" class="r3"/>
<path d="M143.4,158.8 L150.7,155.1" class="r1"/><path d="M143.2,158.5 L150.5,154.9" class="r2"/><path d="M142.9,158 L150.1,154.4" class="r3"/>
<path d="M136,166.3 L142.4,163" class="r1"/><path d="M135.8,166 L142.2,162.8" class="r2"/><path d="M135.5,165.5 L141.9,162.3" class="r3"/>
<path d="M129.6,173.4 L135,170.6" class="r1"/><path d="M129.4,173.1 L134.8,170.3" class="r2"/><path d="M129,172.6 L134.5,169.8" class="r3"/>
<path d="M124.1,180 L128.6,177.7" class="r1"/><path d="M123.9,179.8 L128.4,177.4" class="r2"/><path d="M123.6,179.3 L128,176.9" class="r3"/>
<path d="M119.7,186.2 L123.1,184.4" class="r1"/><path d="M119.5,185.9 L122.9,184.1" class="r2"/><path d="M119.2,185.4 L122.6,183.6" class="r3"/>
<path d="M116.4,191.8 L118.7,190.5" class="r1"/><path d="M116.2,191.5 L118.5,190.3" class="r2"/><path d="M115.9,191 L118.2,189.8" class="r3"/>
<path d="M114.3,196.8 L115.4,196.2" class="r1"/><path d="M114.1,196.5 L115.2,195.9" class="r2"/><path d="M113.7,196 L114.9,195.4" class="r3"/>
<path d="M113.2,201.2 L113.3,201.2" class="r1"/><path d="M113,200.9 L113.1,200.9" class="r2"/><path d="M112.7,200.4 L112.7,200.4" class="r3"/>
<path d="M264.7,39.1 L264.7,39.1" class="r1"/><path d="M264.5,38.8 L264.5,38.8" class="r2"/><path d="M264.1,38.3 L264.2,38.3" class="r3"/>
<path d="M263,43.6 L263.7,43.3" class="r1"/><path d="M262.8,43.3 L263.5,43.1" class="r2"/><path d="M262.5,42.8 L263.2,42.6" class="r3"/>
<path d="M260.7,48.4 L262.1,47.9" class="r1"/><path d="M260.5,48.1 L261.9,47.6" class="r2"/><path d="M260.1,47.6 L261.5,47.1" class="r3"/>
<path d="M257.6,53.5 L259.7,52.7" class="r1"/><path d="M257.4,53.2 L259.5,52.4" class="r2"/><path d="M257.1,52.7 L259.2,51.9" class="r3"/>
<path d="M253.8,58.9 L256.6,57.8" class="r1"/><path d="M253.6,58.7 L256.4,57.5" class="r2"/><path d="M253.2,58.2 L256.1,57" class="r3"/>
<path d="M249.2,64.7 L252.8,63.2" class="r1"/><path d="M249,64.4 L252.6,63" class="r2"/><path d="M248.6,63.9 L252.3,62.5" class="r3"/>
<path d="M243.8,70.9 L248.2,69" class="r1"/><path d="M243.6,70.6 L248,68.8" class="r2"/><path d="M243.2,70.1 L247.7,68.3" class="r3"/>
<path d="M237.5,77.5 L242.8,75.3" class="r1"/><path d="M237.3,77.3 L242.6,75" class="r2"/><path d="M236.9,76.8 L242.2,74.5" class="r3"/>
<path d="M231.8,83.9 L236.5,81.9" class="r1"/><path d="M231.6,83.7 L236.3,81.7" class="r2"/><path d="M231.3,83.2 L236,81.2" class="r3"/>
<path d="M225.3,90.9 L230.9,88.4" class="r1"/><path d="M225.1,90.6 L230.7,88.1" class="r2"/><path d="M224.7,90.1 L230.3,87.6" class="r3"/>
<path d="M219.4,97.6 L224.3,95.4" class="r1"/><path d="M219.2,97.3 L224.1,95.1" class="r2"/><path d="M218.8,96.8 L223.7,94.6" class="r3"/>
<path d="M212.6,104.8 L218.4,102.1" class="r1"/><path d="M212.4,104.5 L218.2,101.8" class="r2"/><path d="M212,104 L217.9,101.3" class="r3"/>
<path d="M206.4,111.8 L211.6,109.4" class="r1"/><path d="M206.2,111.5 L211.4,109.1" class="r2"/><path d="M205.9,111 L211,108.6" class="r3"/>
<path d="M199.3,119.3 L205.4,116.4" class="r1"/><path d="M199.1,119.1 L205.2,116.1" class="r2"/><path d="M198.7,118.6 L204.9,115.6" class="r3"/>
<path d="M192.9,126.6 L198.3,124" class="r1"/><path d="M192.7,126.4 L198.1,123.7" class="r2"/><path d="M192.3,125.9 L197.7,123.2" class="r3"/>
<path d="M185.4,134.5 L191.9,131.3" class="r1"/><path d="M185.2,134.3 L191.7,131.1" class="r2"/><path d="M184.8,133.8 L191.3,130.6" class="r3"/>
<path d="M178.7,142.1 L184.4,139.3" class="r1"/><path d="M178.5,141.9 L184.2,139" class="r2"/><path d="M178.1,141.4 L183.8,138.5" class="r3"/>
<path d="M170.9,150.4 L177.7,146.9" class="r1"/><path d="M170.7,150.2 L177.5,146.7" class="r2"/><path d="M170.3,149.7 L177.1,146.2" class="r3"/>
<path d="M163.9,158.4 L169.9,155.3" class="r1"/><path d="M163.7,158.1 L169.7,155" class="r2"/><path d="M163.3,157.6 L169.3,154.5" class="r3"/>
<path d="M155.7,167.1 L162.8,163.3" class="r1"/><path d="M155.5,166.8 L162.6,163" class="r2"/><path d="M155.1,166.3 L162.3,162.5" class="r3"/>
<path d="M148.3,175.4 L154.6,172" class="r1"/><path d="M148.1,175.1 L154.4,171.8" class="r2"/><path d="M147.8,174.6 L154.1,171.3" class="r3"/>
<path d="M141.9,183.3 L147.3,180.4" class="r1"/><path d="M141.7,183.1 L147.1,180.1" class="r2"/><path d="M141.4,182.6 L146.7,179.6" class="r3"/>
<path d="M136.5,190.8 L140.9,188.3" class="r1"/><path d="M136.3,190.5 L140.7,188.1" class="r2"/><path d="M135.9,190 L140.3,187.6" class="r3"/>
<path d="M132.1,197.7 L135.5,195.8" class="r1"/><path d="M131.9,197.4 L135.3,195.6" class="r2"/><path d="M131.6,196.9 L134.9,195.1" class="r3"/>
<path d="M128.8,204 L131.1,202.8" class="r1"/><path d="M128.6,203.8 L130.9,202.5" class="r2"/><path d="M128.3,203.3 L130.5,202" class="r3"/>
<path d="M126.7,209.8 L127.8,209.1" class="r1"/><path d="M126.5,209.5 L127.6,208.9" class="r2"/><path d="M126.1,209 L127.3,208.4" class="r3"/>
<path d="M125.6,214.8 L125.7,214.8" class="r1"/><path d="M125.4,214.6 L125.5,214.6" class="r2"/><path d="M125.1,214.1 L125.1,214.1" class="r3"/>
<path d="M277.4,33.6 L277.4,33.6" class="r1"/><path d="M277.2,33.4 L277.2,33.4" class="r2"/><path d="M276.8,32.9 L276.9,32.9" class="r3"/>
<path d="M275.7,38.8 L276.4,38.6" class="r1"/><path d="M275.5,38.6 L276.2,38.3" class="r2"/><path d="M275.1,38.1 L275.8,37.8" class="r3"/>
<path d="M273.3,44.3 L274.7,43.7" class="r1"/><path d="M273.1,44 L274.5,43.5" class="r2"/><path d="M272.7,43.5 L274.1,43" class="r3"/>
<path d="M270.1,50 L272.2,49.2" class="r1"/><path d="M269.9,49.8 L272,49" class="r2"/><path d="M269.6,49.3 L271.7,48.5" class="r3"/>
<path d="M266.3,56.1 L269.1,55" class="r1"/><path d="M266.1,55.9 L268.9,54.7" class="r2"/><path d="M265.7,55.4 L268.6,54.2" class="r3"/>
<path d="M261.7,62.6 L265.3,61.1" class="r1"/><path d="M261.5,62.3 L265.1,60.8" class="r2"/><path d="M261.1,61.8 L264.7,60.3" class="r3"/>
<path d="M256.2,69.4 L260.6,67.6" class="r1"/><path d="M256,69.2 L260.4,67.3" class="r2"/><path d="M255.7,68.7 L260.1,66.8" class="r3"/>
<path d="M249.9,76.8 L255.2,74.5" class="r1"/><path d="M249.7,76.5 L255,74.2" class="r2"/><path d="M249.4,76 L254.7,73.7" class="r3"/>
<path d="M244.3,83.9 L248.9,81.8" class="r1"/><path d="M244.1,83.7 L248.7,81.6" class="r2"/><path d="M243.7,83.2 L248.4,81.1" class="r3"/>
<path d="M237.7,91.5 L243.3,89" class="r1"/><path d="M237.5,91.3 L243.1,88.8" class="r2"/><path d="M237.2,90.8 L242.7,88.3" class="r3"/>
<path d="M231.8,99 L236.7,96.7" class="r1"/><path d="M231.6,98.7 L236.5,96.5" class="r2"/><path d="M231.3,98.2 L236.1,96" class="r3"/>
<path d="M225,106.9 L230.8,104.2" class="r1"/><path d="M224.8,106.7 L230.6,103.9" class="r2"/><path d="M224.5,106.2 L230.3,103.4" class="r3"/>
<path d="M218.9,114.7 L224,112.2" class="r1"/><path d="M218.7,114.4 L223.8,111.9" class="r2"/><path d="M218.3,113.9 L223.4,111.4" class="r3"/>
<path d="M211.7,123 L217.8,120" class="r1"/><path d="M211.5,122.7 L217.6,119.7" class="r2"/><path d="M211.2,122.2 L217.3,119.2" class="r3"/>
<path d="M205.3,131.1 L210.7,128.3" class="r1"/><path d="M205.1,130.8 L210.5,128.1" class="r2"/><path d="M204.8,130.3 L210.1,127.6" class="r3"/>
<path d="M197.9,139.8 L204.3,136.4" class="r1"/><path d="M197.7,139.5 L204.1,136.2" class="r2"/><path d="M197.3,139 L203.7,135.7" class="r3"/>
<path d="M191.2,148.2 L196.8,145.2" class="r1"/><path d="M191,147.9 L196.6,145" class="r2"/><path d="M190.7,147.4 L196.3,144.5" class="r3"/>
<path d="M183.4,157.3 L190.2,153.7" class="r1"/><path d="M183.2,157 L190,153.4" class="r2"/><path d="M182.9,156.5 L189.6,152.9" class="r3"/>
<path d="M176.4,166.1 L182.4,162.8" class="r1"/><path d="M176.2,165.8 L182.2,162.6" class="r2"/><path d="M175.9,165.3 L181.8,162.1" class="r3"/>
<path d="M168.3,175.6 L175.4,171.6" class="r1"/><path d="M168.1,175.4 L175.2,171.4" class="r2"/><path d="M167.7,174.9 L174.8,170.9" class="r3"/>
<path d="M161,184.8 L167.2,181.2" class="r1"/><path d="M160.8,184.5 L167,181" class="r2"/><path d="M160.4,184 L166.7,180.5" class="r3"/>
<path d="M154.6,193.5 L159.9,190.5" class="r1"/><path d="M154.4,193.3 L159.7,190.2" class="r2"/><path d="M154,192.8 L159.4,189.7" class="r3"/>
<path d="M149.2,201.8 L153.5,199.3" class="r1"/><path d="M149,201.6 L153.3,199" class="r2"/><path d="M148.6,201.1 L153,198.5" class="r3"/>
<path d="M144.8,209.5 L148.1,207.6" class="r1"/><path d="M144.6,209.3 L147.9,207.3" class="r2"/><path d="M144.3,208.8 L147.6,206.8" class="r3"/>
<path d="M141.5,216.6 L143.8,215.3" class="r1"/><path d="M141.3,216.4 L143.6,215" class="r2"/><path d="M141,215.9 L143.2,214.5" class="r3"/>
<path d="M139.4,223.1 L140.5,222.4" class="r1"/><path d="M139.2,222.8 L140.3,222.1" class="r2"/><path d="M138.8,222.3 L139.9,221.6" class="r3"/>
<path d="M138.3,228.8 L138.3,228.8" class="r1"/><path d="M138.1,228.6 L138.1,228.6" class="r2"/><path d="M137.8,228.1 L137.8,228.1" class="r3"/>
<path d="M290.6,27.9 L290.6,27.9" class="r1"/><path d="M290.4,27.7 L290.4,27.7" class="r2"/><path d="M290,27.2 L290.1,27.2" class="r3"/>
<path d="M288.8,33.8 L289.5,33.6" class="r1"/><path d="M288.6,33.6 L289.3,33.3" class="r2"/><path d="M288.3,33.1 L288.9,32.8" class="r3"/>
<path d="M286.3,40 L287.7,39.5" class="r1"/><path d="M286.1,39.7 L287.5,39.2" class="r2"/><path d="M285.8,39.2 L287.1,38.7" class="r3"/>
<path d="M283.1,46.4 L285.2,45.6" class="r1"/><path d="M282.9,46.2 L285,45.4" class="r2"/><path d="M282.6,45.7 L284.7,44.9" class="r3"/>
<path d="M279.2,53.2 L282,52.1" class="r1"/><path d="M279,53 L281.8,51.8" class="r2"/><path d="M278.7,52.5 L281.5,51.3" class="r3"/>
<path d="M274.6,60.4 L278.1,58.9" class="r1"/><path d="M274.4,60.1 L277.9,58.6" class="r2"/><path d="M274,59.6 L277.6,58.1" class="r3"/>
<path d="M269.1,67.9 L273.5,66.1" class="r1"/><path d="M268.9,67.7 L273.3,65.8" class="r2"/><path d="M268.6,67.2 L272.9,65.3" class="r3"/>
<path d="M262.8,76 L268,73.7" class="r1"/><path d="M262.6,75.7 L267.8,73.4" class="r2"/><path d="M262.3,75.2 L267.5,72.9" class="r3"/>
<path d="M257.2,83.9 L261.7,81.8" class="r1"/><path d="M257,83.6 L261.5,81.5" class="r2"/><path d="M256.6,83.1 L261.2,81" class="r3"/>
<path d="M250.6,92.2 L256.1,89.7" class="r1"/><path d="M250.4,92 L255.9,89.4" class="r2"/><path d="M250.1,91.5 L255.5,88.9" class="r3"/>
<path d="M244.7,100.4 L249.5,98.1" class="r1"/><path d="M244.5,100.2 L249.3,97.8" class="r2"/><path d="M244.2,99.7 L249,97.3" class="r3"/>
<path d="M237.9,109.2 L243.6,106.3" class="r1"/><path d="M237.7,108.9 L243.4,106.1" class="r2"/><path d="M237.3,108.4 L243.1,105.6" class="r3"/>
<path d="M231.7,117.7 L236.8,115.1" class="r1"/><path d="M231.5,117.4 L236.6,114.9" class="r2"/><path d="M231.2,116.9 L236.2,114.4" class="r3"/>
<path d="M224.6,126.8 L230.6,123.6" class="r1"/><path d="M224.4,126.5 L230.4,123.4" class="r2"/><path d="M224.1,126 L230.1,122.9" class="r3"/>
<path d="M218.2,135.6 L223.5,132.8" class="r1"/><path d="M218,135.4 L223.3,132.6" class="r2"/><path d="M217.7,134.9 L223,132.1" class="r3"/>
<path d="M210.8,145.2 L217.1,141.7" class="r1"/><path d="M210.6,144.9 L216.9,141.5" class="r2"/><path d="M210.2,144.4 L216.6,141" class="r3"/>
<path d="M204.1,154.4 L209.7,151.3" class="r1"/><path d="M203.9,154.1 L209.5,151.1" class="r2"/><path d="M203.6,153.6 L209.1,150.6" class="r3"/>
<path d="M196.3,164.4 L203,160.6" class="r1"/><path d="M196.1,164.1 L202.8,160.3" class="r2"/><path d="M195.8,163.6 L202.5,159.8" class="r3"/>
<path d="M189.4,174 L195.2,170.6" class="r1"/><path d="M189.2,173.7 L195,170.3" class="r2"/><path d="M188.8,173.2 L194.7,169.8" class="r3"/>
<path d="M181.2,184.4 L188.3,180.3" class="r1"/><path d="M181,184.2 L188.1,180" class="r2"/><path d="M180.7,183.7 L187.7,179.5" class="r3"/>
<path d="M174,194.5 L180.1,190.7" class="r1"/><path d="M173.8,194.2 L179.9,190.5" class="r2"/><path d="M173.4,193.7 L179.6,190" class="r3"/>
<path d="M167.6,204.1 L172.9,200.8" class="r1"/><path d="M167.4,203.8 L172.7,200.6" class="r2"/><path d="M167,203.3 L172.3,200.1" class="r3"/>
<path d="M162.2,213.2 L166.5,210.5" class="r1"/><path d="M162,212.9 L166.3,210.2" class="r2"/><path d="M161.7,212.4 L166,209.7" class="r3"/>
<path d="M157.9,221.7 L161.1,219.6" class="r1"/><path d="M157.7,221.4 L160.9,219.4" class="r2"/><path d="M157.3,220.9 L160.6,218.9" class="r3"/>
<path d="M154.6,229.5 L156.8,228.1" class="r1"/><path d="M154.4,229.3 L156.6,227.9" class="r2"/><path d="M154,228.8 L156.2,227.4" class="r3"/>
<path d="M152.4,236.7 L153.5,236" class="r1"/><path d="M152.2,236.5 L153.3,235.7" class="r2"/><path d="M151.8,236 L152.9,235.2" class="r3"/>
<path d="M151.3,243.1 L151.3,243.1" class="r1"/><path d="M151.1,242.9 L151.1,242.9" class="r2"/><path d="M150.8,242.4 L150.8,242.4" class="r3"/>
<path d="M304.3,22 L304.3,22" class="r1"/><path d="M304.1,21.8 L304.1,21.8" class="r2"/><path d="M303.8,21.3 L303.8,21.3" class="r3"/>
<path d="M302.4,28.7 L303.1,28.4" class="r1"/><path d="M302.2,28.4 L302.9,28.2" class="r2"/><path d="M301.9,27.9 L302.6,27.7" class="r3"/>
<path d="M299.9,35.5 L301.2,35" class="r1"/><path d="M299.7,35.3 L301,34.8" class="r2"/><path d="M299.3,34.8 L300.7,34.3" class="r3"/>
<path d="M296.6,42.7 L298.7,41.9" class="r1"/><path d="M296.4,42.5 L298.5,41.7" class="r2"/><path d="M296.1,42 L298.1,41.2" class="r3"/>
<path d="M292.7,50.2 L295.4,49.1" class="r1"/><path d="M292.5,50 L295.2,48.8" class="r2"/><path d="M292.1,49.5 L294.9,48.3" class="r3"/>
<path d="M288,58.1 L291.5,56.6" class="r1"/><path d="M287.8,57.8 L291.3,56.3" class="r2"/><path d="M287.4,57.3 L290.9,55.8" class="r3"/>
<path d="M282.5,66.4 L286.8,64.5" class="r1"/><path d="M282.3,66.1 L286.6,64.2" class="r2"/><path d="M282,65.6 L286.2,63.7" class="r3"/>
<path d="M276.2,75.2 L281.3,72.8" class="r1"/><path d="M276,74.9 L281.1,72.6" class="r2"/><path d="M275.6,74.4 L280.8,72.1" class="r3"/>
<path d="M270.5,83.8 L275,81.7" class="r1"/><path d="M270.3,83.6 L274.8,81.4" class="r2"/><path d="M270,83.1 L274.4,80.9" class="r3"/>
<path d="M263.9,93 L269.3,90.3" class="r1"/><path d="M263.7,92.7 L269.1,90.1" class="r2"/><path d="M263.4,92.2 L268.8,89.6" class="r3"/>
<path d="M258,101.9 L262.7,99.5" class="r1"/><path d="M257.8,101.7 L262.5,99.3" class="r2"/><path d="M257.5,101.2 L262.2,98.8" class="r3"/>
<path d="M251.2,111.4 L256.8,108.5" class="r1"/><path d="M251,111.2 L256.6,108.3" class="r2"/><path d="M250.6,110.7 L256.3,107.8" class="r3"/>
<path d="M245,120.7 L250,118.1" class="r1"/><path d="M244.8,120.5 L249.8,117.9" class="r2"/><path d="M244.5,120 L249.4,117.4" class="r3"/>
<path d="M237.9,130.7 L243.8,127.5" class="r1"/><path d="M237.7,130.4 L243.6,127.2" class="r2"/><path d="M237.4,129.9 L243.3,126.7" class="r3"/>
<path d="M231.5,140.4 L236.7,137.4" class="r1"/><path d="M231.3,140.1 L236.5,137.2" class="r2"/><path d="M231,139.6 L236.2,136.7" class="r3"/>
<path d="M224.1,150.7 L230.3,147.2" class="r1"/><path d="M223.9,150.5 L230.1,146.9" class="r2"/><path d="M223.5,150 L229.8,146.4" class="r3"/>
<path d="M217.4,160.8 L222.9,157.6" class="r1"/><path d="M217.2,160.6 L222.7,157.3" class="r2"/><path d="M216.9,160.1 L222.4,156.8" class="r3"/>
<path d="M209.7,171.6 L216.2,167.7" class="r1"/><path d="M209.5,171.4 L216,167.5" class="r2"/><path d="M209.1,170.9 L215.7,167" class="r3"/>
<path d="M202.7,182.1 L208.5,178.6" class="r1"/><path d="M202.5,181.9 L208.3,178.3" class="r2"/><path d="M202.1,181.4 L207.9,177.8" class="r3"/>
<path d="M194.6,193.5 L201.5,189.1" class="r1"/><path d="M194.4,193.2 L201.3,188.9" class="r2"/><path d="M194,192.7 L201,188.4" class="r3"/>
<path d="M187.3,204.4 L193.4,200.5" class="r1"/><path d="M187.1,204.2 L193.2,200.3" class="r2"/><path d="M186.8,203.7 L192.9,199.8" class="r3"/>
<path d="M181,214.9 L186.2,211.5" class="r1"/><path d="M180.8,214.6 L186,211.2" class="r2"/><path d="M180.4,214.1 L185.6,210.7" class="r3"/>
<path d="M175.6,224.8 L179.8,222" class="r1"/><path d="M175.4,224.6 L179.6,221.8" class="r2"/><path d="M175,224.1 L179.3,221.3" class="r3"/>
<path d="M171.2,234.1 L174.5,232" class="r1"/><path d="M171,233.9 L174.3,231.7" class="r2"/><path d="M170.7,233.4 L173.9,231.2" class="r3"/>
<path d="M167.9,242.8 L170.1,241.3" class="r1"/><path d="M167.7,242.5 L169.9,241" class="r2"/><path d="M167.4,242 L169.6,240.5" class="r3"/>
<path d="M165.7,250.7 L166.8,249.9" class="r1"/><path d="M165.5,250.4 L166.6,249.7" class="r2"/><path d="M165.2,249.9 L166.3,249.2" class="r3"/>
<path d="M164.6,257.8 L164.6,257.8" class="r1"/><path d="M164.4,257.6 L164.4,257.6" class="r2"/><path d="M164,257.1 L164.1,257.1" class="r3"/>
<polygon points="399.5,220 516.2,278.3 668.3,197 557.1,161.1" fill="#eaeaea"/>
<path d="M424.8,210.5 L541.3,264.9 M424.8,210.5 L419.4,56.9 M448.3,201.7 L564.5,252.5 M448.3,201.7 L444.9,52.8 M470.4,193.5 L586,241 M470.4,193.5 L468.7,49 M491.1,185.7 L606,230.3 M491.1,185.7 L490.9,45.4 M510.6,178.4 L624.6,220.3 M510.6,178.4 L511.8,42.1 M529,171.6 L642,211.1 M529,171.6 L531.3,38.9 M546.4,165.1 L658.2,202.4 M546.4,165.1 L549.7,36 M419.8,230.1 L577.1,167.5 M577.1,167.5 L582.4,37.6 M441.5,240.9 L598.1,174.3 M598.1,174.3 L605,41.2 M464.6,252.5 L620.2,181.5 M620.2,181.5 L628.8,44.9 M489.5,265 L643.6,189 M643.6,189 L654,49 M399.1,210.7 L557.4,153.6 L669,188.6 M397.8,182.5 L558.1,130.8 L671.2,162.9 M396.4,153.5 L558.8,107.4 L673.5,136.6 M394.9,123.7 L559.6,83.6 L675.9,109.5 M393.5,92.9 L560.3,59.2 L678.3,81.8" fill="none" stroke="#c4c4c4" stroke-width="0.7" stroke-dasharray="1 1.2"/>
<path d="M391.9,61.3 L561.1,34.2 L680.8,53.2 L668.3,197 M561.1,34.2 L557.1,161.1 M399.5,220 L557.1,161.1 L668.3,197" fill="none" stroke="#555" stroke-width="0.7"/>
<path d="M410.8,224.4 L567.8,163.9 M421.1,229.6 L577.9,167.2 M431.8,234.9 L588.2,170.5 M442.8,240.4 L598.9,174 M454.2,246.1 L609.8,177.5 M465.9,251.9 L621,181.1 M478.1,258 L632.5,184.8 M490.8,264.3 L644.3,188.6 M503.9,270.9 L656.5,192.6 M517.5,277.6 L669,196.6" fill="none" stroke="#2a2a2a" stroke-width="1.1"/>
<path d="M397.1,149.2 L397.9,148.9 M398.4,148.3 L400.6,147.7 M401.1,147 L404.6,146 M405.1,145.3 L409.8,144 M410.3,143.4 L416.3,141.7 M416.8,141 L423.9,139.1 M424.4,138.4 L432.6,136.2 M433.1,135.5 L442.3,133 M442.8,132.4 L450.6,130.2 M451,129.6 L459.8,127.2 M460.3,126.6 L467.7,124.6 M468.1,124 L476.5,121.7 M476.9,121.1 L484,119.2 M484.4,118.6 L492.4,116.5 M492.8,115.9 L499.6,114.1 M500,113.5 L507.6,111.5 M508,110.9 L514.4,109.2 M514.8,108.6 L522.1,106.7 M522.5,106.1 L528.6,104.5 M529,103.9 L535.9,102.1 M536.3,101.5 L542.2,100 M542.6,99.5 L547.5,98.2 M547.9,97.6 L551.8,96.6 M552.2,96.1 L555.3,95.3 M555.6,94.7 L557.8,94.2 M558.2,93.6 L559.5,93.3 M559.8,92.8 L560.3,92.6 M397.4,155.9 L398.2,155.7 M398.7,154.5 L400.9,153.9 M401.4,152.6 L404.8,151.7 M405.3,150.5 L410,149.1 M410.5,147.9 L416.5,146.2 M416.9,145.1 L424.1,143.1 M424.5,141.9 L432.7,139.6 M433.2,138.4 L442.4,135.9 M442.8,134.7 L450.6,132.6 M451.1,131.5 L459.8,129.1 M460.3,127.9 L467.7,125.9 M468.1,124.8 L476.5,122.5 M476.9,121.4 L484,119.5 M484.4,118.5 L492.4,116.3 M492.8,115.3 L499.6,113.4 M500,112.4 L507.6,110.4 M508,109.3 L514.4,107.6 M514.8,106.6 L522.1,104.7 M522.5,103.7 L528.7,102.1 M529,101.1 L536,99.3 M536.4,98.3 L542.3,96.7 M542.7,95.7 L547.6,94.5 M548,93.5 L551.9,92.5 M552.3,91.5 L555.4,90.7 M555.8,89.8 L558,89.2 M558.3,88.3 L559.7,87.9 M560,87 L560.5,86.8 M397.8,162.6 L398.6,162.4 M399,160.6 L401.2,160 M401.6,158.3 L405.1,157.3 M405.5,155.5 L410.2,154.2 M410.7,152.5 L416.6,150.8 M417.1,149 L424.2,147 M424.6,145.3 L432.8,143 M433.3,141.3 L442.5,138.8 M442.9,137.1 L450.7,134.9 M451.1,133.3 L459.9,130.9 M460.3,129.3 L467.7,127.2 M468.2,125.6 L476.5,123.3 M476.9,121.8 L484,119.9 M484.4,118.3 L492.4,116.2 M492.8,114.6 L499.6,112.8 M500,111.3 L507.6,109.3 M508,107.8 L514.4,106.1 M514.9,104.6 L522.1,102.7 M522.5,101.2 L528.7,99.6 M529.1,98.2 L536.1,96.4 M536.5,95 L542.4,93.5 M542.8,92 L547.7,90.8 M548.1,89.4 L552.1,88.4 M552.4,87 L555.5,86.2 M555.9,84.8 L558.1,84.3 M558.5,82.9 L559.8,82.5 M560.2,81.1 L560.7,81 M398.1,169.3 L398.9,169.1 M399.3,166.8 L401.4,166.1 M401.9,163.9 L405.3,162.9 M405.7,160.6 L410.4,159.2 M410.9,157 L416.8,155.2 M417.2,153 L424.3,151 M424.8,148.8 L432.9,146.4 M433.4,144.2 L442.5,141.6 M443,139.5 L450.7,137.3 M451.2,135.1 L459.9,132.7 M460.3,130.6 L467.7,128.5 M468.2,126.4 L476.5,124.2 M476.9,122.1 L484,120.2 M484.4,118.1 L492.4,116 M492.8,114 L499.6,112.2 M500,110.2 L507.6,108.2 M508,106.2 L514.5,104.5 M514.9,102.6 L522.2,100.7 M522.6,98.8 L528.7,97.2 M529.1,95.3 L536.1,93.5 M536.5,91.6 L542.4,90.2 M542.8,88.3 L547.8,87.1 M548.2,85.2 L552.2,84.3 M552.6,82.4 L555.7,81.7 M556,79.8 L558.3,79.3 M558.7,77.4 L560,77.1 M560.4,75.3 L560.9,75.2 M398.4,175.9 L399.2,175.7 M399.6,172.9 L401.7,172.2 M402.1,169.5 L405.6,168.4 M406,165.7 L410.7,164.2 M411.1,161.5 L417,159.7 M417.4,157 L424.5,154.9 M424.9,152.2 L433,149.8 M433.4,147.1 L442.6,144.5 M443,141.8 L450.8,139.6 M451.2,137 L459.9,134.5 M460.4,131.9 L467.8,129.8 M468.2,127.3 L476.5,125 M476.9,122.4 L484,120.5 M484.4,118 L492.4,115.8 M492.8,113.4 L499.6,111.6 M500,109.1 L507.6,107.1 M508,104.7 L514.5,103 M514.9,100.6 L522.2,98.7 M522.6,96.3 L528.8,94.8 M529.2,92.4 L536.2,90.7 M536.6,88.3 L542.5,86.9 M542.9,84.5 L547.9,83.4 M548.3,81 L552.3,80.1 M552.7,77.8 L555.8,77.1 M556.2,74.8 L558.4,74.3 M558.8,72 L560.2,71.7 M560.6,69.4 L561.1,69.3 M398.7,182.5 L399.5,182.2 M399.9,179 L402,178.3 M402.4,175 L405.8,173.9 M406.2,170.7 L410.9,169.2 M411.3,166 L417.1,164.2 M417.5,160.9 L424.6,158.8 M425,155.6 L433.1,153.2 M433.5,150 L442.7,147.3 M443.1,144.2 L450.8,141.9 M451.2,138.8 L460,136.3 M460.4,133.2 L467.8,131.1 M468.2,128.1 L476.5,125.8 M476.9,122.7 L484,120.8 M484.4,117.8 L492.4,115.7 M492.8,112.7 L499.6,110.9 M500,108 L507.6,106 M508,103.1 L514.5,101.4 M514.9,98.6 L522.2,96.7 M522.6,93.9 L528.8,92.3 M529.2,89.5 L536.2,87.8 M536.7,85 L542.6,83.6 M543,80.8 L548,79.6 M548.4,76.9 L552.4,75.9 M552.8,73.2 L555.9,72.5 M556.3,69.7 L558.6,69.3 M559,66.5 L560.3,66.2 M560.8,63.5 L561.3,63.4 M399,189 L399.8,188.8 M400.2,185 L402.3,184.3 M402.6,180.5 L406,179.4 M406.4,175.7 L411.1,174.2 M411.4,170.4 L417.3,168.6 M417.7,164.9 L424.7,162.7 M425.1,159 L433.2,156.5 M433.6,152.9 L442.7,150.1 M443.1,146.5 L450.9,144.2 M451.3,140.6 L460,138.1 M460.4,134.5 L467.8,132.4 M468.2,128.9 L476.5,126.6 M476.9,123.1 L484,121.1 M484.4,117.7 L492.4,115.5 M492.8,112.1 L499.6,110.3 M500,106.9 L507.6,104.9 M508,101.5 L514.5,99.9 M514.9,96.5 L522.2,94.7 M522.7,91.4 L528.9,89.9 M529.3,86.6 L536.3,84.9 M536.7,81.6 L542.7,80.3 M543.1,77 L548.1,75.9 M548.5,72.7 L552.5,71.8 M553,68.6 L556.1,67.9 M556.5,64.7 L558.7,64.2 M559.2,61 L560.5,60.7 M561,57.5 L561.5,57.4 M399.3,195.5 L400.1,195.3 M400.4,191 L402.5,190.3 M402.9,186 L406.3,184.9 M406.6,180.6 L411.3,179.1 M411.6,174.9 L417.5,173 M417.8,168.8 L424.9,166.6 M425.2,162.4 L433.3,159.9 M433.7,155.7 L442.8,153 M443.2,148.8 L450.9,146.5 M451.3,142.4 L460,139.9 M460.4,135.8 L467.8,133.7 M468.2,129.7 L476.5,127.4 M476.9,123.4 L484,121.5 M484.4,117.5 L492.4,115.4 M492.8,111.4 L499.6,109.7 M500,105.8 L507.6,103.8 M508,100 L514.5,98.3 M515,94.5 L522.3,92.7 M522.7,88.9 L528.9,87.4 M529.3,83.7 L536.4,82 M536.8,78.3 L542.8,76.9 M543.2,73.2 L548.2,72.1 M548.6,68.4 L552.6,67.6 M553.1,63.9 L556.2,63.2 M556.6,59.6 L558.9,59.1 M559.3,55.5 L560.7,55.2 M561.1,51.5 L561.7,51.4 M399.6,202 L400.4,201.7 M400.7,197 L402.8,196.2 M403.1,191.5 L406.5,190.3 M406.8,185.6 L411.5,184 M411.8,179.3 L417.6,177.4 M418,172.7 L425,170.4 M425.3,165.8 L433.4,163.2 M433.8,158.6 L442.9,155.8 M443.2,151.2 L451,148.8 M451.4,144.3 L460.1,141.7 M460.4,137.2 L467.8,135 M468.2,130.5 L476.5,128.2 M476.9,123.7 L484,121.8 M484.4,117.3 L492.4,115.2 M492.8,110.8 L499.6,109 M500,104.7 L507.6,102.7 M508.1,98.4 L514.5,96.8 M515,92.5 L522.3,90.7 M522.7,86.4 L528.9,85 M529.4,80.7 L536.4,79.1 M536.9,74.9 L542.8,73.6 M543.3,69.4 L548.3,68.4 M548.7,64.2 L552.8,63.4 M553.2,59.2 L556.3,58.6 M556.8,54.5 L559,54 M559.5,49.9 L560.9,49.6 M561.3,45.5 L561.8,45.4 M399.9,208.4 L400.7,208.1 M401,202.9 L403.1,202.1 M403.4,196.9 L406.7,195.7 M407,190.5 L411.7,188.9 M412,183.7 L417.8,181.8 M418.1,176.6 L425.1,174.3 M425.4,169.1 L433.5,166.6 M433.9,161.4 L443,158.6 M443.3,153.5 L451,151.1 M451.4,146.1 L460.1,143.5 M460.5,138.5 L467.8,136.3 M468.2,131.3 L476.6,129 M476.9,124 L484,122.1 M484.4,117.2 L492.4,115.1 M492.8,110.2 L499.6,108.4 M500,103.6 L507.6,101.6 M508.1,96.8 L514.6,95.2 M515,90.4 L522.3,88.7 M522.8,84 L529,82.5 M529.4,77.8 L536.5,76.2 M536.9,71.6 L542.9,70.3 M543.4,65.6 L548.4,64.6 M548.8,59.9 L552.9,59.1 M553.3,54.5 L556.5,53.9 M556.9,49.3 L559.2,48.9 M559.7,44.3 L561,44.1 M561.5,39.4 L562,39.4" fill="none" stroke="#484848" stroke-width="1.5" stroke-linecap="round"/>
<path d="M569.1,106.7 h0 M569.1,106.2 h0 M569.1,105.8 h0 M569.1,105.4 h0 M569.1,104.9 h0 M569.1,104.5 h0 M569.2,104.1 h0 M569.2,103.6 h0 M569.2,103.2 h0 M569.2,102.8 h0 M569.2,102.3 h0 M569.2,101.9 h0 M569.2,101.4 h0 M569.3,101 h0 M569.3,100.6 h0 M569.3,100.1 h0 M569.3,99.7 h0 M569.3,99.3 h0 M569.3,98.8 h0 M569.4,98.4 h0 M569.4,97.9 h0 M569.4,97.5 h0 M569.4,97.1 h0 M569.4,96.6 h0 M569.4,96.2 h0 M569.5,95.8 h0 M569.5,95.3 h0 M579.2,114.8 h0 M579.3,113.9 h0 M579.3,113.1 h0 M579.4,112.2 h0 M579.4,111.3 h0 M579.4,110.4 h0 M579.5,109.6 h0 M579.5,108.7 h0 M579.5,107.8 h0 M579.6,106.9 h0 M579.6,106 h0 M579.6,105.2 h0 M579.7,104.3 h0 M579.7,103.4 h0 M579.8,102.5 h0 M579.8,101.6 h0 M579.8,100.7 h0 M579.9,99.9 h0 M579.9,99 h0 M579.9,98.1 h0 M580,97.2 h0 M580,96.3 h0 M580,95.4 h0 M580.1,94.5 h0 M580.1,93.6 h0 M580.2,92.7 h0 M580.2,91.8 h0 M589.6,123.1 h0 M589.7,121.8 h0 M589.8,120.5 h0 M589.8,119.2 h0 M589.9,117.9 h0 M590,116.5 h0 M590,115.2 h0 M590.1,113.9 h0 M590.1,112.5 h0 M590.2,111.2 h0 M590.3,109.9 h0 M590.3,108.5 h0 M590.4,107.2 h0 M590.5,105.8 h0 M590.5,104.5 h0 M590.6,103.2 h0 M590.6,101.8 h0 M590.7,100.5 h0 M590.8,99.1 h0 M590.8,97.8 h0 M590.9,96.4 h0 M591,95.1 h0 M591,93.7 h0 M591.1,92.3 h0 M591.1,91 h0 M591.2,89.6 h0 M591.3,88.3 h0 M600.3,131.6 h0 M600.4,129.9 h0 M600.5,128.1 h0 M600.6,126.3 h0 M600.6,124.5 h0 M600.7,122.8 h0 M600.8,121 h0 M600.9,119.2 h0 M601,117.4 h0 M601.1,115.6 h0 M601.2,113.8 h0 M601.3,112 h0 M601.4,110.2 h0 M601.5,108.4 h0 M601.6,106.5 h0 M601.7,104.7 h0 M601.8,102.9 h0 M601.9,101.1 h0 M602,99.3 h0 M602,97.4 h0 M602.1,95.6 h0 M602.2,93.8 h0 M602.3,91.9 h0 M602.4,90.1 h0 M602.5,88.2 h0 M602.6,86.4 h0 M602.7,84.5 h0 M611.1,140.3 h0 M611.3,138.1 h0 M611.4,135.9 h0 M611.5,133.6 h0 M611.6,131.4 h0 M611.8,129.1 h0 M611.9,126.9 h0 M612,124.6 h0 M612.2,122.4 h0 M612.3,120.1 h0 M612.4,117.8 h0 M612.6,115.5 h0 M612.7,113.2 h0 M612.8,110.9 h0 M612.9,108.7 h0 M613.1,106.4 h0 M613.2,104 h0 M613.3,101.7 h0 M613.5,99.4 h0 M613.6,97.1 h0 M613.7,94.8 h0 M613.9,92.4 h0 M614,90.1 h0 M614.1,87.8 h0 M614.3,85.4 h0 M614.4,83.1 h0 M614.5,80.7 h0 M622.2,149.2 h0 M622.4,146.5 h0 M622.6,143.8 h0 M622.7,141.1 h0 M622.9,138.4 h0 M623.1,135.7 h0 M623.3,132.9 h0 M623.4,130.2 h0 M623.6,127.4 h0 M623.8,124.7 h0 M623.9,121.9 h0 M624.1,119.2 h0 M624.3,116.4 h0 M624.5,113.6 h0 M624.6,110.8 h0 M624.8,108 h0 M625,105.2 h0 M625.2,102.4 h0 M625.4,99.6 h0 M625.5,96.8 h0 M625.7,93.9 h0 M625.9,91.1 h0 M626.1,88.2 h0 M626.2,85.4 h0 M626.4,82.5 h0 M626.6,79.6 h0 M626.8,76.7 h0 M633.6,158.3 h0 M633.8,155.1 h0 M634,151.9 h0 M634.2,148.8 h0 M634.4,145.6 h0 M634.7,142.4 h0 M634.9,139.1 h0 M635.1,135.9 h0 M635.3,132.7 h0 M635.6,129.4 h0 M635.8,126.2 h0 M636,122.9 h0 M636.2,119.6 h0 M636.5,116.3 h0 M636.7,113 h0 M636.9,109.7 h0 M637.1,106.4 h0 M637.4,103.1 h0 M637.6,99.7 h0 M637.8,96.4 h0 M638.1,93 h0 M638.3,89.7 h0 M638.5,86.3 h0 M638.8,82.9 h0 M639,79.5 h0 M639.2,76.1 h0 M639.5,72.6 h0 M645.2,167.6 h0 M645.4,163.9 h0 M645.7,160.3 h0 M646,156.6 h0 M646.3,152.9 h0 M646.5,149.2 h0 M646.8,145.5 h0 M647.1,141.8 h0 M647.4,138 h0 M647.7,134.3 h0 M647.9,130.5 h0 M648.2,126.8 h0 M648.5,123 h0 M648.8,119.2 h0 M649.1,115.3 h0 M649.4,111.5 h0 M649.6,107.7 h0 M649.9,103.8 h0 M650.2,99.9 h0 M650.5,96 h0 M650.8,92.1 h0 M651.1,88.2 h0 M651.4,84.3 h0 M651.7,80.3 h0 M652,76.3 h0 M652.3,72.4 h0 M652.6,68.4 h0 M657,177 h0 M657.4,172.9 h0 M657.7,168.8 h0 M658,164.6 h0 M658.4,160.4 h0 M658.7,156.2 h0 M659,152 h0 M659.4,147.8 h0 M659.7,143.6 h0 M660.1,139.3 h0 M660.4,135 h0 M660.8,130.7 h0 M661.1,126.4 h0 M661.5,122.1 h0 M661.8,117.7 h0 M662.2,113.3 h0 M662.5,108.9 h0 M662.9,104.5 h0 M663.3,100.1 h0 M663.6,95.6 h0 M664,91.2 h0 M664.4,86.7 h0 M664.7,82.2 h0 M665.1,77.7 h0 M665.5,73.1 h0 M665.8,68.5 h0 M666.2,64 h0 M669.1,186.8 h0 M669.6,182.1 h0 M670,177.5 h0 M670.4,172.8 h0 M670.8,168.2 h0 M671.2,163.5 h0 M671.6,158.7 h0 M672,154 h0 M672.4,149.2 h0 M672.9,144.4 h0 M673.3,139.6 h0 M673.7,134.8 h0 M674.1,129.9 h0 M674.6,125 h0 M675,120.1 h0 M675.4,115.2 h0 M675.8,110.2 h0 M676.3,105.3 h0 M676.7,100.3 h0 M677.2,95.2 h0 M677.6,90.2 h0 M678.1,85.1 h0 M678.5,80 h0 M678.9,74.9 h0 M679.4,69.8 h0 M679.8,64.6 h0 M680.3,59.4 h0" fill="none" stroke="#444" stroke-width="1.55" stroke-linecap="round"/>
<path d="M395.8,142.6 L559.1,98.7" stroke="#1414f0" stroke-width="1.6" fill="none"/>
<text transform="matrix(0.859 -0.231 0.033 0.949 402.4 136.5)" font-size="13.6" text-anchor="start" y="0" fill="#1414f0" stroke="#1414f0" stroke-width="0.3" letter-spacing="0.35">theoretical value</text>
<path d="M391.9,61.3 L399.5,220 L516.2,278.3 L668.3,197 M399.1,210.7 L395.8,211.9 M397.8,182.5 L394.4,183.6 M396.4,153.5 L393,154.5 M394.9,123.7 L391.5,124.5 M393.5,92.9 L390,93.6 M391.9,61.3 L388.5,61.8 M395.8,142.6 L392.5,143.5 M398.4,196.7 L396.5,197.4 M397.1,168.1 L395.1,168.7 M395.7,138.7 L393.7,139.2 M394.2,108.4 L392.2,108.9 M392.7,77.2 L390.7,77.6 M399.5,220 L396.5,221.1 M409.5,224.9 L407.7,225.7 M419.8,230.1 L416.8,231.3 M430.5,235.4 L428.6,236.2 M441.5,240.9 L438.5,242.2 M452.8,246.6 L451,247.4 M464.6,252.5 L461.7,253.9 M476.8,258.6 L475,259.5 M489.5,265 L486.6,266.4 M502.6,271.5 L500.8,272.4 M516.2,278.3 L513.4,279.8 M529,271.5 L530.8,272.3 M541.3,264.9 L544.2,266.2 M553.1,258.6 L555,259.4 M564.5,252.5 L567.5,253.8 M575.5,246.6 L577.3,247.4 M586,241 L589,242.2 M596.2,235.5 L598,236.3 M606,230.3 L609,231.5 M615.5,225.2 L617.3,225.9 M624.6,220.3 L627.6,221.4 M633.4,215.6 L635.3,216.3 M642,211.1 L645,212.1 M650.2,206.6 L652.1,207.3 M658.2,202.4 L661.3,203.4 M666,198.2 L667.9,198.8" fill="none" stroke="#222" stroke-width="1.1"/>
<text transform="matrix(0.729 -0.263 0.046 0.969 394.2 217.4)" font-size="15.3" text-anchor="end" y="0" fill="#222" stroke="#222" stroke-width="0.3">90</text>
<text transform="matrix(0.737 -0.238 0.046 0.969 392.7 189)" font-size="15.3" text-anchor="end" y="0" fill="#222" stroke="#222" stroke-width="0.3">105</text>
<text transform="matrix(0.746 -0.212 0.046 0.969 391.3 159.8)" font-size="15.3" text-anchor="end" y="0" fill="#222" stroke="#222" stroke-width="0.3">120</text>
<text transform="matrix(0.753 -0.183 0.046 0.969 389.8 129.8)" font-size="15.3" text-anchor="end" y="0" fill="#222" stroke="#222" stroke-width="0.3">135</text>
<text transform="matrix(0.760 -0.154 0.046 0.969 388.3 98.8)" font-size="15.3" text-anchor="end" y="0" fill="#222" stroke="#222" stroke-width="0.3">150</text>
<text transform="matrix(0.765 -0.123 0.046 0.969 386.7 66.9)" font-size="15.3" text-anchor="end" y="0" fill="#222" stroke="#222" stroke-width="0.3">165</text>
<text transform="matrix(0.748 -0.201 0.046 0.969 390.8 148.8)" font-size="15.3" text-anchor="end" y="0" fill="#222" stroke="#222" stroke-width="0.3">125.54</text>
<text transform="matrix(-0.042 -0.869 0.895 -0.090 364.5 106.6)" font-size="15.3" text-anchor="middle" y="0" fill="#222" stroke="#222" stroke-width="0.3">T<tspan font-size="10" dy="2.5">i</tspan><tspan dy="-2.5"> /kN</tspan></text>
<text transform="matrix(0.824 -0.308 0.671 0.336 393.3 225.4)" font-size="15.3" text-anchor="end" y="0" fill="#222" stroke="#222" stroke-width="0.3">0</text>
<text transform="matrix(0.818 -0.325 0.671 0.336 413.6 235.8)" font-size="15.3" text-anchor="end" y="0" fill="#222" stroke="#222" stroke-width="0.3">2</text>
<text transform="matrix(0.810 -0.345 0.671 0.336 435.4 246.8)" font-size="15.3" text-anchor="end" y="0" fill="#222" stroke="#222" stroke-width="0.3">4</text>
<text transform="matrix(0.800 -0.366 0.671 0.336 458.7 258.7)" font-size="15.3" text-anchor="end" y="0" fill="#222" stroke="#222" stroke-width="0.3">6</text>
<text transform="matrix(0.789 -0.389 0.671 0.336 483.6 271.4)" font-size="15.3" text-anchor="end" y="0" fill="#222" stroke="#222" stroke-width="0.3">8</text>
<text transform="matrix(0.776 -0.415 0.671 0.336 510.5 285.1)" font-size="15.3" text-anchor="end" y="0" fill="#222" stroke="#222" stroke-width="0.3">10</text>
<text transform="matrix(0.644 0.322 -0.330 0.574 422.3 258.4)" font-size="15.3" text-anchor="middle" y="0" fill="#222" stroke="#222" stroke-width="0.3">d /mm</text>
<text transform="matrix(0.834 0.389 -0.582 0.311 541 270)" font-size="15.3" text-anchor="start" y="0" fill="#222" stroke="#222" stroke-width="0.3">20</text>
<text transform="matrix(0.843 0.368 -0.582 0.311 564.3 257.5)" font-size="15.3" text-anchor="start" y="0" fill="#222" stroke="#222" stroke-width="0.3">40</text>
<text transform="matrix(0.851 0.350 -0.582 0.311 585.8 245.9)" font-size="15.3" text-anchor="start" y="0" fill="#222" stroke="#222" stroke-width="0.3">60</text>
<text transform="matrix(0.858 0.333 -0.582 0.311 605.8 235.1)" font-size="15.3" text-anchor="start" y="0" fill="#222" stroke="#222" stroke-width="0.3">80</text>
<text transform="matrix(0.863 0.317 -0.582 0.311 624.5 225.1)" font-size="15.3" text-anchor="start" y="0" fill="#222" stroke="#222" stroke-width="0.3">100</text>
<text transform="matrix(0.868 0.304 -0.582 0.311 641.9 215.7)" font-size="15.3" text-anchor="start" y="0" fill="#222" stroke="#222" stroke-width="0.3">120</text>
<text transform="matrix(0.873 0.291 -0.582 0.311 658.2 206.9)" font-size="15.3" text-anchor="start" y="0" fill="#222" stroke="#222" stroke-width="0.3">140</text>
<text transform="matrix(0.565 -0.300 0.421 0.795 636.9 249.4)" font-size="15.3" text-anchor="middle" y="0" fill="#222" stroke="#222" stroke-width="0.3">Strand number n</text>
<text x="659.5" y="187.9" font-size="15.5" text-anchor="middle" fill="#111" stroke="#111" stroke-width="0.25">(b)</text>
<path d="M570.3,95.1 L570.3,95.1" class="r1"/><path d="M570.1,94.8 L570.1,94.8" class="r2"/><path d="M569.7,94.3 L569.8,94.3" class="r3"/>
<path d="M568.6,96 L569.5,95.8" class="r1"/><path d="M568.4,95.7 L569.3,95.5" class="r2"/><path d="M568.1,95.2 L568.9,95" class="r3"/>
<path d="M566.1,97.1 L567.8,96.6" class="r1"/><path d="M565.9,96.9 L567.6,96.4" class="r2"/><path d="M565.5,96.4 L567.2,95.9" class="r3"/>
<path d="M562.7,98.5 L565.2,97.8" class="r1"/><path d="M562.5,98.2 L565,97.5" class="r2"/><path d="M562.1,97.7 L564.7,97" class="r3"/>
<path d="M558.4,100.1 L561.8,99.1" class="r1"/><path d="M558.2,99.8 L561.6,98.9" class="r2"/><path d="M557.8,99.3 L561.3,98.4" class="r3"/>
<path d="M553.1,101.9 L557.5,100.7" class="r1"/><path d="M552.9,101.7 L557.3,100.5" class="r2"/><path d="M552.6,101.2 L556.9,100" class="r3"/>
<path d="M546.9,104.1 L552.2,102.6" class="r1"/><path d="M546.7,103.8 L552,102.4" class="r2"/><path d="M546.3,103.3 L551.7,101.9" class="r3"/>
<path d="M539.6,106.5 L546,104.8" class="r1"/><path d="M539.4,106.3 L545.8,104.5" class="r2"/><path d="M539,105.8 L545.4,104" class="r3"/>
<path d="M533.1,108.8 L538.7,107.2" class="r1"/><path d="M532.9,108.5 L538.5,107" class="r2"/><path d="M532.5,108 L538.1,106.5" class="r3"/>
<path d="M525.4,111.3 L532.1,109.5" class="r1"/><path d="M525.2,111.1 L531.9,109.2" class="r2"/><path d="M524.9,110.6 L531.6,108.7" class="r3"/>
<path d="M518.6,113.7 L524.5,112.1" class="r1"/><path d="M518.4,113.4 L524.3,111.8" class="r2"/><path d="M518.1,112.9 L523.9,111.3" class="r3"/>
<path d="M510.6,116.3 L517.6,114.4" class="r1"/><path d="M510.4,116.1 L517.4,114.2" class="r2"/><path d="M510.1,115.6 L517.1,113.7" class="r3"/>
<path d="M503.5,118.8 L509.6,117.1" class="r1"/><path d="M503.3,118.6 L509.4,116.9" class="r2"/><path d="M502.9,118.1 L509.1,116.4" class="r3"/>
<path d="M495.1,121.6 L502.5,119.6" class="r1"/><path d="M494.9,121.4 L502.3,119.3" class="r2"/><path d="M494.6,120.9 L501.9,118.8" class="r3"/>
<path d="M487.6,124.2 L494.1,122.4" class="r1"/><path d="M487.4,123.9 L493.9,122.1" class="r2"/><path d="M487.1,123.4 L493.5,121.6" class="r3"/>
<path d="M478.9,127.1 L486.6,125" class="r1"/><path d="M478.7,126.9 L486.4,124.7" class="r2"/><path d="M478.3,126.4 L486,124.2" class="r3"/>
<path d="M471,129.8 L477.8,127.9" class="r1"/><path d="M470.8,129.6 L477.6,127.7" class="r2"/><path d="M470.5,129.1 L477.2,127.2" class="r3"/>
<path d="M461.8,132.9 L469.9,130.7" class="r1"/><path d="M461.6,132.7 L469.7,130.4" class="r2"/><path d="M461.2,132.2 L469.3,129.9" class="r3"/>
<path d="M453.5,135.8 L460.6,133.8" class="r1"/><path d="M453.3,135.5 L460.4,133.5" class="r2"/><path d="M453,135 L460.1,133" class="r3"/>
<path d="M443.8,139 L452.3,136.6" class="r1"/><path d="M443.6,138.8 L452.1,136.4" class="r2"/><path d="M443.3,138.3 L451.8,135.9" class="r3"/>
<path d="M435.1,142 L442.6,139.9" class="r1"/><path d="M434.9,141.7 L442.4,139.6" class="r2"/><path d="M434.6,141.2 L442.1,139.1" class="r3"/>
<path d="M427.5,144.7 L433.9,142.9" class="r1"/><path d="M427.3,144.4 L433.7,142.6" class="r2"/><path d="M427,143.9 L433.3,142.1" class="r3"/>
<path d="M421,147.1 L426.2,145.6" class="r1"/><path d="M420.8,146.8 L426,145.3" class="r2"/><path d="M420.5,146.3 L425.7,144.8" class="r3"/>
<path d="M415.8,149.1 L419.8,148" class="r1"/><path d="M415.6,148.9 L419.6,147.7" class="r2"/><path d="M415.2,148.4 L419.2,147.2" class="r3"/>
<path d="M411.8,150.8 L414.5,150" class="r1"/><path d="M411.6,150.5 L414.3,149.8" class="r2"/><path d="M411.3,150 L413.9,149.3" class="r3"/>
<path d="M409.1,152.1 L410.5,151.7" class="r1"/><path d="M408.9,151.9 L410.3,151.5" class="r2"/><path d="M408.6,151.4 L409.9,151" class="r3"/>
<path d="M407.8,153 L407.8,153" class="r1"/><path d="M407.6,152.8 L407.6,152.8" class="r2"/><path d="M407.3,152.3 L407.3,152.3" class="r3"/>
<path d="M581,91.6 L581,91.6" class="r1"/><path d="M580.8,91.4 L580.8,91.4" class="r2"/><path d="M580.5,90.9 L580.5,90.9" class="r3"/>
<path d="M579.3,93 L580.2,92.7" class="r1"/><path d="M579.1,92.7 L580,92.5" class="r2"/><path d="M578.8,92.2 L579.6,92" class="r3"/>
<path d="M576.8,94.5 L578.5,94.1" class="r1"/><path d="M576.6,94.3 L578.3,93.8" class="r2"/><path d="M576.2,93.8 L577.9,93.3" class="r3"/>
<path d="M573.4,96.3 L575.9,95.7" class="r1"/><path d="M573.2,96.1 L575.7,95.4" class="r2"/><path d="M572.8,95.6 L575.3,94.9" class="r3"/>
<path d="M569,98.4 L572.5,97.5" class="r1"/><path d="M568.8,98.2 L572.3,97.2" class="r2"/><path d="M568.5,97.7 L571.9,96.7" class="r3"/>
<path d="M563.8,100.8 L568.1,99.6" class="r1"/><path d="M563.6,100.5 L567.9,99.3" class="r2"/><path d="M563.2,100 L567.6,98.8" class="r3"/>
<path d="M557.5,103.4 L562.9,101.9" class="r1"/><path d="M557.3,103.1 L562.7,101.7" class="r2"/><path d="M557,102.6 L562.3,101.2" class="r3"/>
<path d="M550.3,106.3 L556.6,104.6" class="r1"/><path d="M550.1,106.1 L556.4,104.3" class="r2"/><path d="M549.7,105.6 L556.1,103.8" class="r3"/>
<path d="M543.7,109.1 L549.3,107.5" class="r1"/><path d="M543.5,108.8 L549.1,107.3" class="r2"/><path d="M543.2,108.3 L548.8,106.8" class="r3"/>
<path d="M536.1,112.1 L542.8,110.3" class="r1"/><path d="M535.9,111.9 L542.6,110" class="r2"/><path d="M535.6,111.4 L542.2,109.5" class="r3"/>
<path d="M529.3,115 L535.1,113.4" class="r1"/><path d="M529.1,114.8 L534.9,113.1" class="r2"/><path d="M528.7,114.3 L534.6,112.6" class="r3"/>
<path d="M521.3,118.2 L528.3,116.3" class="r1"/><path d="M521.1,118 L528.1,116" class="r2"/><path d="M520.8,117.5 L527.7,115.5" class="r3"/>
<path d="M514.2,121.2 L520.3,119.5" class="r1"/><path d="M514,121 L520.1,119.2" class="r2"/><path d="M513.6,120.5 L519.8,118.7" class="r3"/>
<path d="M505.8,124.6 L513.1,122.5" class="r1"/><path d="M505.6,124.4 L512.9,122.3" class="r2"/><path d="M505.3,123.9 L512.6,121.8" class="r3"/>
<path d="M498.3,127.8 L504.8,125.9" class="r1"/><path d="M498.1,127.5 L504.6,125.7" class="r2"/><path d="M497.8,127 L504.2,125.2" class="r3"/>
<path d="M489.6,131.3 L497.3,129.1" class="r1"/><path d="M489.4,131 L497.1,128.8" class="r2"/><path d="M489,130.5 L496.7,128.3" class="r3"/>
<path d="M481.7,134.6 L488.5,132.6" class="r1"/><path d="M481.5,134.3 L488.3,132.4" class="r2"/><path d="M481.2,133.8 L487.9,131.9" class="r3"/>
<path d="M472.5,138.3 L480.6,136" class="r1"/><path d="M472.3,138.1 L480.4,135.7" class="r2"/><path d="M472,137.6 L480,135.2" class="r3"/>
<path d="M464.3,141.8 L471.4,139.7" class="r1"/><path d="M464.1,141.5 L471.2,139.4" class="r2"/><path d="M463.7,141 L470.8,138.9" class="r3"/>
<path d="M454.6,145.7 L463.1,143.2" class="r1"/><path d="M454.4,145.4 L462.9,142.9" class="r2"/><path d="M454,144.9 L462.5,142.4" class="r3"/>
<path d="M445.9,149.3 L453.4,147.1" class="r1"/><path d="M445.7,149.1 L453.2,146.9" class="r2"/><path d="M445.4,148.6 L452.8,146.4" class="r3"/>
<path d="M438.3,152.7 L444.7,150.8" class="r1"/><path d="M438.1,152.4 L444.5,150.5" class="r2"/><path d="M437.8,151.9 L444.1,150" class="r3"/>
<path d="M431.9,155.7 L437.1,154.1" class="r1"/><path d="M431.7,155.5 L436.9,153.9" class="r2"/><path d="M431.3,155 L436.5,153.4" class="r3"/>
<path d="M426.6,158.4 L430.6,157.2" class="r1"/><path d="M426.4,158.1 L430.4,156.9" class="r2"/><path d="M426.1,157.6 L430,156.4" class="r3"/>
<path d="M422.7,160.7 L425.3,159.9" class="r1"/><path d="M422.5,160.4 L425.1,159.6" class="r2"/><path d="M422.1,159.9 L424.8,159.1" class="r3"/>
<path d="M420,162.6 L421.4,162.2" class="r1"/><path d="M419.8,162.3 L421.2,161.9" class="r2"/><path d="M419.5,161.8 L420.8,161.4" class="r3"/>
<path d="M418.7,164.1 L418.7,164.1" class="r1"/><path d="M418.5,163.9 L418.5,163.9" class="r2"/><path d="M418.1,163.4 L418.2,163.4" class="r3"/>
<path d="M592.1,88 L592.1,88" class="r1"/><path d="M591.9,87.8 L591.9,87.8" class="r2"/><path d="M591.5,87.3 L591.6,87.3" class="r3"/>
<path d="M590.4,89.8 L591.2,89.6" class="r1"/><path d="M590.2,89.6 L591,89.4" class="r2"/><path d="M589.8,89.1 L590.7,88.9" class="r3"/>
<path d="M587.8,91.9 L589.5,91.4" class="r1"/><path d="M587.6,91.6 L589.3,91.2" class="r2"/><path d="M587.3,91.1 L588.9,90.7" class="r3"/>
<path d="M584.4,94.2 L586.9,93.5" class="r1"/><path d="M584.2,93.9 L586.7,93.2" class="r2"/><path d="M583.8,93.4 L586.4,92.7" class="r3"/>
<path d="M580.1,96.7 L583.5,95.8" class="r1"/><path d="M579.9,96.5 L583.3,95.5" class="r2"/><path d="M579.5,96 L582.9,95" class="r3"/>
<path d="M574.8,99.5 L579.1,98.3" class="r1"/><path d="M574.6,99.3 L578.9,98.1" class="r2"/><path d="M574.2,98.8 L578.6,97.6" class="r3"/>
<path d="M568.5,102.7 L573.9,101.2" class="r1"/><path d="M568.3,102.4 L573.7,100.9" class="r2"/><path d="M568,101.9 L573.3,100.4" class="r3"/>
<path d="M561.3,106.1 L567.6,104.3" class="r1"/><path d="M561.1,105.9 L567.4,104.1" class="r2"/><path d="M560.7,105.4 L567.1,103.6" class="r3"/>
<path d="M554.7,109.4 L560.3,107.8" class="r1"/><path d="M554.5,109.1 L560.1,107.6" class="r2"/><path d="M554.2,108.6 L559.7,107.1" class="r3"/>
<path d="M547.1,113 L553.8,111.1" class="r1"/><path d="M546.9,112.7 L553.6,110.8" class="r2"/><path d="M546.6,112.2 L553.2,110.3" class="r3"/>
<path d="M540.3,116.4 L546.1,114.7" class="r1"/><path d="M540.1,116.2 L545.9,114.5" class="r2"/><path d="M539.8,115.7 L545.6,114" class="r3"/>
<path d="M532.3,120.2 L539.3,118.1" class="r1"/><path d="M532.1,119.9 L539.1,117.9" class="r2"/><path d="M531.8,119.4 L538.7,117.4" class="r3"/>
<path d="M525.2,123.7 L531.3,122" class="r1"/><path d="M525,123.5 L531.1,121.7" class="r2"/><path d="M524.6,123 L530.8,121.2" class="r3"/>
<path d="M516.8,127.7 L524.1,125.5" class="r1"/><path d="M516.6,127.5 L523.9,125.3" class="r2"/><path d="M516.3,127 L523.6,124.8" class="r3"/>
<path d="M509.4,131.4 L515.8,129.5" class="r1"/><path d="M509.2,131.2 L515.6,129.3" class="r2"/><path d="M508.8,130.7 L515.2,128.8" class="r3"/>
<path d="M500.6,135.6 L508.3,133.3" class="r1"/><path d="M500.4,135.3 L508.1,133" class="r2"/><path d="M500.1,134.8 L507.7,132.5" class="r3"/>
<path d="M492.8,139.5 L499.5,137.5" class="r1"/><path d="M492.6,139.3 L499.3,137.2" class="r2"/><path d="M492.2,138.8 L499,136.7" class="r3"/>
<path d="M483.6,143.9 L491.6,141.4" class="r1"/><path d="M483.4,143.6 L491.4,141.2" class="r2"/><path d="M483,143.1 L491.1,140.7" class="r3"/>
<path d="M475.3,148 L482.4,145.8" class="r1"/><path d="M475.1,147.7 L482.2,145.6" class="r2"/><path d="M474.8,147.2 L481.9,145.1" class="r3"/>
<path d="M465.7,152.6 L474.2,149.9" class="r1"/><path d="M465.5,152.3 L474,149.7" class="r2"/><path d="M465.1,151.8 L473.6,149.2" class="r3"/>
<path d="M457,156.9 L464.5,154.6" class="r1"/><path d="M456.8,156.7 L464.3,154.3" class="r2"/><path d="M456.5,156.2 L463.9,153.8" class="r3"/>
<path d="M449.4,160.9 L455.8,158.9" class="r1"/><path d="M449.2,160.7 L455.6,158.7" class="r2"/><path d="M448.9,160.2 L455.2,158.2" class="r3"/>
<path d="M443,164.6 L448.2,163" class="r1"/><path d="M442.8,164.4 L448,162.7" class="r2"/><path d="M442.4,163.9 L447.6,162.2" class="r3"/>
<path d="M437.8,167.9 L441.7,166.7" class="r1"/><path d="M437.6,167.7 L441.5,166.4" class="r2"/><path d="M437.2,167.2 L441.2,165.9" class="r3"/>
<path d="M433.8,170.9 L436.5,170" class="r1"/><path d="M433.6,170.6 L436.3,169.8" class="r2"/><path d="M433.3,170.1 L435.9,169.3" class="r3"/>
<path d="M431.2,173.4 L432.5,172.9" class="r1"/><path d="M431,173.1 L432.3,172.7" class="r2"/><path d="M430.6,172.6 L432,172.2" class="r3"/>
<path d="M429.9,175.5 L429.9,175.5" class="r1"/><path d="M429.7,175.2 L429.7,175.2" class="r2"/><path d="M429.3,174.7 L429.3,174.7" class="r3"/>
<path d="M603.5,84.3 L603.5,84.3" class="r1"/><path d="M603.3,84.1 L603.3,84.1" class="r2"/><path d="M603,83.6 L603,83.6" class="r3"/>
<path d="M601.8,86.6 L602.6,86.4" class="r1"/><path d="M601.6,86.4 L602.4,86.1" class="r2"/><path d="M601.2,85.9 L602.1,85.6" class="r3"/>
<path d="M599.2,89.1 L600.9,88.7" class="r1"/><path d="M599,88.9 L600.7,88.4" class="r2"/><path d="M598.7,88.4 L600.3,87.9" class="r3"/>
<path d="M595.8,91.9 L598.3,91.2" class="r1"/><path d="M595.6,91.7 L598.1,91" class="r2"/><path d="M595.2,91.2 L597.7,90.5" class="r3"/>
<path d="M591.4,95 L594.8,94" class="r1"/><path d="M591.2,94.7 L594.6,93.8" class="r2"/><path d="M590.9,94.2 L594.3,93.3" class="r3"/>
<path d="M586.1,98.3 L590.5,97.1" class="r1"/><path d="M585.9,98 L590.3,96.8" class="r2"/><path d="M585.6,97.5 L589.9,96.3" class="r3"/>
<path d="M579.9,101.9 L585.2,100.4" class="r1"/><path d="M579.7,101.7 L585,100.2" class="r2"/><path d="M579.4,101.2 L584.6,99.7" class="r3"/>
<path d="M572.6,105.9 L578.9,104.1" class="r1"/><path d="M572.4,105.7 L578.7,103.8" class="r2"/><path d="M572.1,105.2 L578.4,103.3" class="r3"/>
<path d="M566.1,109.7 L571.6,108.1" class="r1"/><path d="M565.9,109.5 L571.4,107.8" class="r2"/><path d="M565.5,109 L571.1,107.3" class="r3"/>
<path d="M558.5,113.9 L565.1,111.9" class="r1"/><path d="M558.3,113.6 L564.9,111.7" class="r2"/><path d="M557.9,113.1 L564.5,111.2" class="r3"/>
<path d="M551.7,117.8 L557.5,116.1" class="r1"/><path d="M551.5,117.6 L557.3,115.9" class="r2"/><path d="M551.1,117.1 L556.9,115.4" class="r3"/>
<path d="M543.7,122.2 L550.6,120.1" class="r1"/><path d="M543.5,121.9 L550.4,119.9" class="r2"/><path d="M543.1,121.4 L550.1,119.4" class="r3"/>
<path d="M536.6,126.3 L542.6,124.5" class="r1"/><path d="M536.4,126.1 L542.4,124.2" class="r2"/><path d="M536,125.6 L542.1,123.7" class="r3"/>
<path d="M528.2,130.9 L535.5,128.7" class="r1"/><path d="M528,130.7 L535.3,128.4" class="r2"/><path d="M527.7,130.2 L534.9,127.9" class="r3"/>
<path d="M520.7,135.2 L527.1,133.3" class="r1"/><path d="M520.5,135 L526.9,133" class="r2"/><path d="M520.2,134.5 L526.6,132.5" class="r3"/>
<path d="M512,140 L519.6,137.6" class="r1"/><path d="M511.8,139.8 L519.4,137.4" class="r2"/><path d="M511.4,139.3 L519.1,136.9" class="r3"/>
<path d="M504.2,144.6 L510.9,142.5" class="r1"/><path d="M504,144.3 L510.7,142.2" class="r2"/><path d="M503.6,143.8 L510.3,141.7" class="r3"/>
<path d="M495,149.6 L503,147" class="r1"/><path d="M494.8,149.4 L502.8,146.8" class="r2"/><path d="M494.4,148.9 L502.5,146.3" class="r3"/>
<path d="M486.7,154.4 L493.8,152.1" class="r1"/><path d="M486.5,154.1 L493.6,151.8" class="r2"/><path d="M486.2,153.6 L493.3,151.3" class="r3"/>
<path d="M477.1,159.7 L485.6,156.9" class="r1"/><path d="M476.9,159.4 L485.4,156.7" class="r2"/><path d="M476.5,158.9 L485,156.2" class="r3"/>
<path d="M468.4,164.7 L475.9,162.2" class="r1"/><path d="M468.2,164.4 L475.7,162" class="r2"/><path d="M467.9,163.9 L475.3,161.5" class="r3"/>
<path d="M460.9,169.4 L467.2,167.3" class="r1"/><path d="M460.7,169.1 L467,167" class="r2"/><path d="M460.3,168.6 L466.7,166.5" class="r3"/>
<path d="M454.4,173.8 L459.6,172" class="r1"/><path d="M454.2,173.5 L459.4,171.8" class="r2"/><path d="M453.9,173 L459.1,171.3" class="r3"/>
<path d="M449.2,177.8 L453.2,176.4" class="r1"/><path d="M449,177.5 L453,176.2" class="r2"/><path d="M448.7,177 L452.6,175.7" class="r3"/>
<path d="M445.3,181.3 L448,180.4" class="r1"/><path d="M445.1,181.1 L447.8,180.2" class="r2"/><path d="M444.7,180.6 L447.4,179.7" class="r3"/>
<path d="M442.7,184.5 L444,184" class="r1"/><path d="M442.5,184.2 L443.8,183.8" class="r2"/><path d="M442.1,183.7 L443.5,183.3" class="r3"/>
<path d="M441.4,187.2 L441.4,187.2" class="r1"/><path d="M441.2,186.9 L441.2,186.9" class="r2"/><path d="M440.8,186.4 L440.8,186.4" class="r3"/>
<path d="M615.4,80.5 L615.4,80.5" class="r1"/><path d="M615.2,80.2 L615.2,80.2" class="r2"/><path d="M614.8,79.7 L614.8,79.7" class="r3"/>
<path d="M613.6,83.3 L614.4,83.1" class="r1"/><path d="M613.4,83 L614.2,82.8" class="r2"/><path d="M613,82.5 L613.9,82.3" class="r3"/>
<path d="M611,86.3 L612.6,85.9" class="r1"/><path d="M610.8,86.1 L612.4,85.6" class="r2"/><path d="M610.4,85.6 L612.1,85.1" class="r3"/>
<path d="M607.5,89.6 L610,88.9" class="r1"/><path d="M607.3,89.3 L609.8,88.7" class="r2"/><path d="M607,88.8 L609.5,88.2" class="r3"/>
<path d="M603.2,93.2 L606.5,92.2" class="r1"/><path d="M603,92.9 L606.3,92" class="r2"/><path d="M602.6,92.4 L606,91.5" class="r3"/>
<path d="M597.9,97 L602.2,95.8" class="r1"/><path d="M597.7,96.8 L602,95.5" class="r2"/><path d="M597.3,96.3 L601.6,95" class="r3"/>
<path d="M591.6,101.2 L596.9,99.6" class="r1"/><path d="M591.4,100.9 L596.7,99.4" class="r2"/><path d="M591.1,100.4 L596.3,98.9" class="r3"/>
<path d="M584.3,105.7 L590.6,103.8" class="r1"/><path d="M584.1,105.4 L590.4,103.6" class="r2"/><path d="M583.8,104.9 L590.1,103.1" class="r3"/>
<path d="M577.8,110 L583.3,108.4" class="r1"/><path d="M577.6,109.8 L583.1,108.1" class="r2"/><path d="M577.3,109.3 L582.8,107.6" class="r3"/>
<path d="M570.2,114.8 L576.8,112.8" class="r1"/><path d="M570,114.5 L576.6,112.5" class="r2"/><path d="M569.6,114 L576.2,112" class="r3"/>
<path d="M563.4,119.3 L569.2,117.5" class="r1"/><path d="M563.2,119.1 L569,117.3" class="r2"/><path d="M562.8,118.6 L568.6,116.8" class="r3"/>
<path d="M555.4,124.3 L562.3,122.1" class="r1"/><path d="M555.2,124 L562.1,121.9" class="r2"/><path d="M554.9,123.5 L561.8,121.4" class="r3"/>
<path d="M548.3,129 L554.3,127.1" class="r1"/><path d="M548.1,128.8 L554.1,126.9" class="r2"/><path d="M547.7,128.3 L553.8,126.4" class="r3"/>
<path d="M539.9,134.2 L547.2,131.9" class="r1"/><path d="M539.7,133.9 L547,131.6" class="r2"/><path d="M539.4,133.4 L546.6,131.1" class="r3"/>
<path d="M532.5,139.2 L538.8,137.1" class="r1"/><path d="M532.3,138.9 L538.6,136.9" class="r2"/><path d="M531.9,138.4 L538.3,136.4" class="r3"/>
<path d="M523.7,144.6 L531.3,142.1" class="r1"/><path d="M523.5,144.4 L531.1,141.9" class="r2"/><path d="M523.2,143.9 L530.8,141.4" class="r3"/>
<path d="M515.9,149.8 L522.6,147.6" class="r1"/><path d="M515.7,149.6 L522.4,147.3" class="r2"/><path d="M515.3,149.1 L522,146.8" class="r3"/>
<path d="M506.7,155.5 L514.7,152.8" class="r1"/><path d="M506.5,155.3 L514.5,152.6" class="r2"/><path d="M506.2,154.8 L514.2,152.1" class="r3"/>
<path d="M498.5,161 L505.5,158.6" class="r1"/><path d="M498.3,160.7 L505.3,158.3" class="r2"/><path d="M497.9,160.2 L505,157.8" class="r3"/>
<path d="M488.9,167 L497.3,164.1" class="r1"/><path d="M488.7,166.7 L497.1,163.8" class="r2"/><path d="M488.3,166.2 L496.8,163.3" class="r3"/>
<path d="M480.2,172.7 L487.6,170.1" class="r1"/><path d="M480,172.5 L487.4,169.9" class="r2"/><path d="M479.7,172 L487.1,169.4" class="r3"/>
<path d="M472.7,178.1 L479,175.9" class="r1"/><path d="M472.5,177.9 L478.8,175.7" class="r2"/><path d="M472.1,177.4 L478.4,175.2" class="r3"/>
<path d="M466.2,183.2 L471.4,181.4" class="r1"/><path d="M466,182.9 L471.2,181.1" class="r2"/><path d="M465.7,182.4 L470.9,180.6" class="r3"/>
<path d="M461,187.9 L465,186.4" class="r1"/><path d="M460.8,187.6 L464.8,186.2" class="r2"/><path d="M460.5,187.1 L464.4,185.7" class="r3"/>
<path d="M457.1,192.1 L459.8,191.1" class="r1"/><path d="M456.9,191.9 L459.6,190.9" class="r2"/><path d="M456.6,191.4 L459.2,190.4" class="r3"/>
<path d="M454.5,195.9 L455.8,195.4" class="r1"/><path d="M454.3,195.6 L455.6,195.1" class="r2"/><path d="M453.9,195.1 L455.3,194.6" class="r3"/>
<path d="M453.2,199.2 L453.2,199.2" class="r1"/><path d="M453,198.9 L453,198.9" class="r2"/><path d="M452.7,198.4 L452.7,198.4" class="r3"/>
<path d="M627.6,76.5 L627.6,76.5" class="r1"/><path d="M627.4,76.3 L627.4,76.3" class="r2"/><path d="M627.1,75.8 L627.1,75.8" class="r3"/>
<path d="M625.8,79.8 L626.6,79.6" class="r1"/><path d="M625.6,79.6 L626.4,79.4" class="r2"/><path d="M625.2,79.1 L626.1,78.9" class="r3"/>
<path d="M623.1,83.4 L624.8,82.9" class="r1"/><path d="M622.9,83.1 L624.6,82.7" class="r2"/><path d="M622.6,82.6 L624.2,82.2" class="r3"/>
<path d="M619.7,87.2 L622.1,86.5" class="r1"/><path d="M619.5,86.9 L621.9,86.3" class="r2"/><path d="M619.1,86.4 L621.6,85.8" class="r3"/>
<path d="M615.3,91.3 L618.6,90.3" class="r1"/><path d="M615.1,91 L618.4,90.1" class="r2"/><path d="M614.7,90.5 L618.1,89.6" class="r3"/>
<path d="M610,95.7 L614.3,94.4" class="r1"/><path d="M609.8,95.4 L614.1,94.2" class="r2"/><path d="M609.4,94.9 L613.7,93.7" class="r3"/>
<path d="M603.7,100.4 L609,98.8" class="r1"/><path d="M603.5,100.1 L608.8,98.6" class="r2"/><path d="M603.2,99.6 L608.4,98.1" class="r3"/>
<path d="M596.4,105.5 L602.7,103.6" class="r1"/><path d="M596.2,105.2 L602.5,103.3" class="r2"/><path d="M595.9,104.7 L602.1,102.8" class="r3"/>
<path d="M589.9,110.4 L595.4,108.7" class="r1"/><path d="M589.7,110.1 L595.2,108.5" class="r2"/><path d="M589.4,109.6 L594.8,108" class="r3"/>
<path d="M582.3,115.7 L588.8,113.7" class="r1"/><path d="M582.1,115.4 L588.6,113.4" class="r2"/><path d="M581.7,114.9 L588.3,112.9" class="r3"/>
<path d="M575.5,120.8 L581.2,119" class="r1"/><path d="M575.3,120.6 L581,118.8" class="r2"/><path d="M574.9,120.1 L580.7,118.3" class="r3"/>
<path d="M567.5,126.4 L574.4,124.2" class="r1"/><path d="M567.3,126.1 L574.2,123.9" class="r2"/><path d="M567,125.6 L573.8,123.4" class="r3"/>
<path d="M560.4,131.8 L566.4,129.8" class="r1"/><path d="M560.2,131.5 L566.2,129.5" class="r2"/><path d="M559.8,131 L565.9,129" class="r3"/>
<path d="M552,137.6 L559.3,135.2" class="r1"/><path d="M551.8,137.3 L559.1,135" class="r2"/><path d="M551.5,136.8 L558.7,134.5" class="r3"/>
<path d="M544.6,143.2 L550.9,141.1" class="r1"/><path d="M544.4,143 L550.7,140.8" class="r2"/><path d="M544,142.5 L550.4,140.3" class="r3"/>
<path d="M535.8,149.3 L543.4,146.7" class="r1"/><path d="M535.6,149.1 L543.2,146.5" class="r2"/><path d="M535.3,148.6 L542.9,146" class="r3"/>
<path d="M528,155.2 L534.7,152.9" class="r1"/><path d="M527.8,154.9 L534.5,152.6" class="r2"/><path d="M527.4,154.4 L534.1,152.1" class="r3"/>
<path d="M518.8,161.6 L526.8,158.8" class="r1"/><path d="M518.6,161.4 L526.6,158.6" class="r2"/><path d="M518.3,160.9 L526.3,158.1" class="r3"/>
<path d="M510.6,167.8 L517.6,165.3" class="r1"/><path d="M510.4,167.5 L517.4,165" class="r2"/><path d="M510.1,167 L517.1,164.5" class="r3"/>
<path d="M501,174.5 L509.4,171.5" class="r1"/><path d="M500.8,174.3 L509.2,171.2" class="r2"/><path d="M500.4,173.8 L508.9,170.7" class="r3"/>
<path d="M492.4,181 L499.8,178.3" class="r1"/><path d="M492.2,180.7 L499.6,178" class="r2"/><path d="M491.8,180.2 L499.2,177.5" class="r3"/>
<path d="M484.8,187.1 L491.1,184.8" class="r1"/><path d="M484.6,186.9 L490.9,184.5" class="r2"/><path d="M484.3,186.4 L490.6,184" class="r3"/>
<path d="M478.4,192.9 L483.5,191" class="r1"/><path d="M478.2,192.7 L483.3,190.7" class="r2"/><path d="M477.8,192.2 L483,190.2" class="r3"/>
<path d="M473.2,198.3 L477.1,196.8" class="r1"/><path d="M473,198 L476.9,196.5" class="r2"/><path d="M472.6,197.5 L476.6,196" class="r3"/>
<path d="M469.3,203.2 L471.9,202.2" class="r1"/><path d="M469.1,202.9 L471.7,201.9" class="r2"/><path d="M468.7,202.4 L471.4,201.4" class="r3"/>
<path d="M466.6,207.6 L468,207.1" class="r1"/><path d="M466.4,207.4 L467.8,206.9" class="r2"/><path d="M466.1,206.9 L467.4,206.4" class="r3"/>
<path d="M465.4,211.5 L465.4,211.5" class="r1"/><path d="M465.2,211.3 L465.2,211.3" class="r2"/><path d="M464.8,210.8 L464.8,210.8" class="r3"/>
<path d="M640.3,72.4 L640.3,72.4" class="r1"/><path d="M640.1,72.2 L640.1,72.2" class="r2"/><path d="M639.7,71.7 L639.7,71.7" class="r3"/>
<path d="M638.4,76.3 L639.2,76.1" class="r1"/><path d="M638.2,76 L639,75.8" class="r2"/><path d="M637.9,75.5 L638.7,75.3" class="r3"/>
<path d="M635.7,80.4 L637.4,79.9" class="r1"/><path d="M635.5,80.1 L637.2,79.7" class="r2"/><path d="M635.2,79.6 L636.8,79.2" class="r3"/>
<path d="M632.2,84.7 L634.7,84" class="r1"/><path d="M632,84.5 L634.5,83.8" class="r2"/><path d="M631.7,84 L634.1,83.3" class="r3"/>
<path d="M627.8,89.3 L631.2,88.4" class="r1"/><path d="M627.6,89.1 L631,88.1" class="r2"/><path d="M627.3,88.6 L630.6,87.6" class="r3"/>
<path d="M622.5,94.3 L626.8,93" class="r1"/><path d="M622.3,94 L626.6,92.8" class="r2"/><path d="M622,93.5 L626.2,92.3" class="r3"/>
<path d="M616.2,99.6 L621.4,98" class="r1"/><path d="M616,99.3 L621.2,97.8" class="r2"/><path d="M615.7,98.8 L620.9,97.3" class="r3"/>
<path d="M609,105.2 L615.2,103.3" class="r1"/><path d="M608.8,105 L615,103.1" class="r2"/><path d="M608.4,104.5 L614.6,102.6" class="r3"/>
<path d="M602.4,110.7 L607.9,109" class="r1"/><path d="M602.2,110.5 L607.7,108.8" class="r2"/><path d="M601.9,110 L607.3,108.3" class="r3"/>
<path d="M594.8,116.7 L601.3,114.6" class="r1"/><path d="M594.6,116.4 L601.1,114.3" class="r2"/><path d="M594.2,115.9 L600.8,113.8" class="r3"/>
<path d="M588,122.4 L593.7,120.6" class="r1"/><path d="M587.8,122.2 L593.5,120.3" class="r2"/><path d="M587.4,121.7 L593.1,119.8" class="r3"/>
<path d="M580,128.6 L586.8,126.3" class="r1"/><path d="M579.8,128.4 L586.6,126.1" class="r2"/><path d="M579.5,127.9 L586.3,125.6" class="r3"/>
<path d="M572.9,134.6 L578.9,132.6" class="r1"/><path d="M572.7,134.4 L578.7,132.3" class="r2"/><path d="M572.3,133.9 L578.3,131.8" class="r3"/>
<path d="M564.5,141.1 L571.7,138.6" class="r1"/><path d="M564.3,140.9 L571.5,138.4" class="r2"/><path d="M564,140.4 L571.2,137.9" class="r3"/>
<path d="M557.1,147.4 L563.4,145.2" class="r1"/><path d="M556.9,147.1 L563.2,144.9" class="r2"/><path d="M556.5,146.6 L562.8,144.4" class="r3"/>
<path d="M548.3,154.2 L555.9,151.5" class="r1"/><path d="M548.1,153.9 L555.7,151.2" class="r2"/><path d="M547.8,153.4 L555.3,150.7" class="r3"/>
<path d="M540.5,160.8 L547.1,158.3" class="r1"/><path d="M540.3,160.5 L546.9,158.1" class="r2"/><path d="M539.9,160 L546.6,157.6" class="r3"/>
<path d="M531.3,167.9 L539.3,165" class="r1"/><path d="M531.1,167.7 L539.1,164.7" class="r2"/><path d="M530.8,167.2 L538.7,164.2" class="r3"/>
<path d="M523.1,174.8 L530.1,172.2" class="r1"/><path d="M522.9,174.5 L529.9,171.9" class="r2"/><path d="M522.6,174 L529.6,171.4" class="r3"/>
<path d="M513.5,182.3 L521.9,179.1" class="r1"/><path d="M513.3,182 L521.7,178.8" class="r2"/><path d="M513,181.5 L521.3,178.3" class="r3"/>
<path d="M504.9,189.5 L512.3,186.7" class="r1"/><path d="M504.7,189.3 L512.1,186.4" class="r2"/><path d="M504.3,188.8 L511.7,185.9" class="r3"/>
<path d="M497.3,196.4 L503.6,193.9" class="r1"/><path d="M497.1,196.2 L503.4,193.7" class="r2"/><path d="M496.8,195.7 L503.1,193.2" class="r3"/>
<path d="M490.9,202.9 L496.1,200.9" class="r1"/><path d="M490.7,202.7 L495.9,200.6" class="r2"/><path d="M490.4,202.2 L495.5,200.1" class="r3"/>
<path d="M485.7,209 L489.6,207.4" class="r1"/><path d="M485.5,208.8 L489.4,207.2" class="r2"/><path d="M485.2,208.3 L489.1,206.7" class="r3"/>
<path d="M481.8,214.6 L484.4,213.5" class="r1"/><path d="M481.6,214.4 L484.2,213.3" class="r2"/><path d="M481.2,213.9 L483.9,212.8" class="r3"/>
<path d="M479.2,219.7 L480.5,219.2" class="r1"/><path d="M479,219.5 L480.3,218.9" class="r2"/><path d="M478.6,219 L479.9,218.4" class="r3"/>
<path d="M477.9,224.3 L477.9,224.3" class="r1"/><path d="M477.7,224 L477.7,224" class="r2"/><path d="M477.3,223.5 L477.3,223.5" class="r3"/>
<path d="M653.4,68.2 L653.4,68.2" class="r1"/><path d="M653.2,67.9 L653.2,67.9" class="r2"/><path d="M652.8,67.4 L652.9,67.4" class="r3"/>
<path d="M651.5,72.6 L652.3,72.4" class="r1"/><path d="M651.3,72.3 L652.1,72.1" class="r2"/><path d="M650.9,71.8 L651.7,71.6" class="r3"/>
<path d="M648.8,77.2 L650.4,76.8" class="r1"/><path d="M648.6,77 L650.2,76.5" class="r2"/><path d="M648.2,76.5 L649.8,76" class="r3"/>
<path d="M645.2,82.1 L647.7,81.5" class="r1"/><path d="M645,81.9 L647.5,81.2" class="r2"/><path d="M644.7,81.4 L647.1,80.7" class="r3"/>
<path d="M640.8,87.3 L644.1,86.4" class="r1"/><path d="M640.6,87.1 L643.9,86.1" class="r2"/><path d="M640.2,86.6 L643.5,85.6" class="r3"/>
<path d="M635.5,92.9 L639.7,91.6" class="r1"/><path d="M635.3,92.6 L639.5,91.4" class="r2"/><path d="M634.9,92.1 L639.1,90.9" class="r3"/>
<path d="M629.2,98.7 L634.3,97.2" class="r1"/><path d="M629,98.5 L634.1,96.9" class="r2"/><path d="M628.6,98 L633.8,96.4" class="r3"/>
<path d="M621.9,105 L628,103.1" class="r1"/><path d="M621.7,104.7 L627.8,102.8" class="r2"/><path d="M621.3,104.2 L627.5,102.3" class="r3"/>
<path d="M615.3,111.1 L620.7,109.4" class="r1"/><path d="M615.1,110.9 L620.5,109.1" class="r2"/><path d="M614.8,110.4 L620.2,108.6" class="r3"/>
<path d="M607.7,117.7 L614.2,115.5" class="r1"/><path d="M607.5,117.4 L614,115.3" class="r2"/><path d="M607.2,116.9 L613.6,114.8" class="r3"/>
<path d="M600.9,124 L606.6,122.1" class="r1"/><path d="M600.7,123.8 L606.4,121.9" class="r2"/><path d="M600.3,123.3 L606,121.4" class="r3"/>
<path d="M592.9,130.9 L599.7,128.6" class="r1"/><path d="M592.7,130.6 L599.5,128.3" class="r2"/><path d="M592.4,130.1 L599.2,127.8" class="r3"/>
<path d="M585.8,137.6 L591.7,135.5" class="r1"/><path d="M585.6,137.3 L591.5,135.2" class="r2"/><path d="M585.2,136.8 L591.2,134.7" class="r3"/>
<path d="M577.4,144.7 L584.6,142.2" class="r1"/><path d="M577.2,144.5 L584.4,141.9" class="r2"/><path d="M576.9,144 L584,141.4" class="r3"/>
<path d="M570,151.7 L576.2,149.4" class="r1"/><path d="M569.8,151.4 L576,149.1" class="r2"/><path d="M569.4,150.9 L575.7,148.6" class="r3"/>
<path d="M561.2,159.2 L568.7,156.4" class="r1"/><path d="M561,159 L568.5,156.2" class="r2"/><path d="M560.7,158.5 L568.2,155.7" class="r3"/>
<path d="M553.4,166.5 L560,164" class="r1"/><path d="M553.2,166.2 L559.8,163.7" class="r2"/><path d="M552.8,165.7 L559.4,163.2" class="r3"/>
<path d="M544.2,174.4 L552.2,171.3" class="r1"/><path d="M544,174.1 L552,171.1" class="r2"/><path d="M543.7,173.6 L551.6,170.6" class="r3"/>
<path d="M536,182 L543,179.3" class="r1"/><path d="M535.8,181.8 L542.8,179" class="r2"/><path d="M535.5,181.3 L542.4,178.5" class="r3"/>
<path d="M526.4,190.3 L534.8,187" class="r1"/><path d="M526.2,190.1 L534.6,186.7" class="r2"/><path d="M525.9,189.6 L534.2,186.2" class="r3"/>
<path d="M517.8,198.3 L525.1,195.3" class="r1"/><path d="M517.6,198.1 L524.9,195.1" class="r2"/><path d="M517.3,197.6 L524.6,194.6" class="r3"/>
<path d="M510.3,206 L516.5,203.4" class="r1"/><path d="M510.1,205.7 L516.3,203.1" class="r2"/><path d="M509.7,205.2 L516,202.6" class="r3"/>
<path d="M503.8,213.3 L508.9,211.1" class="r1"/><path d="M503.6,213 L508.7,210.8" class="r2"/><path d="M503.3,212.5 L508.4,210.3" class="r3"/>
<path d="M498.6,220.1 L502.5,218.4" class="r1"/><path d="M498.4,219.8 L502.3,218.1" class="r2"/><path d="M498.1,219.3 L502,217.6" class="r3"/>
<path d="M494.7,226.4 L497.3,225.2" class="r1"/><path d="M494.5,226.1 L497.1,225" class="r2"/><path d="M494.1,225.6 L496.8,224.5" class="r3"/>
<path d="M492.1,232.2 L493.4,231.6" class="r1"/><path d="M491.9,231.9 L493.2,231.3" class="r2"/><path d="M491.5,231.4 L492.8,230.8" class="r3"/>
<path d="M490.7,237.3 L490.7,237.3" class="r1"/><path d="M490.5,237.1 L490.5,237.1" class="r2"/><path d="M490.2,236.6 L490.2,236.6" class="r3"/>
<path d="M667,63.8 L667,63.8" class="r1"/><path d="M666.8,63.5 L666.8,63.5" class="r2"/><path d="M666.4,63 L666.5,63" class="r3"/>
<path d="M665,68.8 L665.8,68.5" class="r1"/><path d="M664.8,68.5 L665.6,68.3" class="r2"/><path d="M664.5,68 L665.3,67.8" class="r3"/>
<path d="M662.3,74 L663.9,73.5" class="r1"/><path d="M662.1,73.7 L663.7,73.3" class="r2"/><path d="M661.7,73.2 L663.3,72.8" class="r3"/>
<path d="M658.7,79.5 L661.1,78.8" class="r1"/><path d="M658.5,79.2 L660.9,78.5" class="r2"/><path d="M658.1,78.7 L660.5,78" class="r3"/>
<path d="M654.2,85.3 L657.5,84.3" class="r1"/><path d="M654,85 L657.3,84.1" class="r2"/><path d="M653.7,84.5 L656.9,83.6" class="r3"/>
<path d="M648.9,91.4 L653,90.1" class="r1"/><path d="M648.7,91.1 L652.8,89.9" class="r2"/><path d="M648.3,90.6 L652.5,89.4" class="r3"/>
<path d="M642.6,97.9 L647.7,96.3" class="r1"/><path d="M642.4,97.6 L647.5,96" class="r2"/><path d="M642,97.1 L647.1,95.5" class="r3"/>
<path d="M635.3,104.7 L641.4,102.8" class="r1"/><path d="M635.1,104.5 L641.2,102.5" class="r2"/><path d="M634.7,104 L640.8,102" class="r3"/>
<path d="M628.7,111.5 L634.1,109.7" class="r1"/><path d="M628.5,111.2 L633.9,109.5" class="r2"/><path d="M628.1,110.7 L633.5,109" class="r3"/>
<path d="M621.1,118.7 L627.5,116.5" class="r1"/><path d="M620.9,118.4 L627.3,116.3" class="r2"/><path d="M620.5,117.9 L626.9,115.8" class="r3"/>
<path d="M614.2,125.7 L619.9,123.8" class="r1"/><path d="M614,125.5 L619.7,123.5" class="r2"/><path d="M613.7,125 L619.3,123" class="r3"/>
<path d="M606.3,133.2 L613,130.8" class="r1"/><path d="M606.1,133 L612.8,130.6" class="r2"/><path d="M605.7,132.5 L612.4,130.1" class="r3"/>
<path d="M599.1,140.6 L605,138.4" class="r1"/><path d="M598.9,140.3 L604.8,138.2" class="r2"/><path d="M598.6,139.8 L604.5,137.7" class="r3"/>
<path d="M590.8,148.5 L597.9,145.8" class="r1"/><path d="M590.6,148.2 L597.7,145.6" class="r2"/><path d="M590.2,147.7 L597.3,145.1" class="r3"/>
<path d="M583.3,156.1 L589.5,153.8" class="r1"/><path d="M583.1,155.9 L589.3,153.5" class="r2"/><path d="M582.7,155.4 L589,153" class="r3"/>
<path d="M574.6,164.4 L582,161.5" class="r1"/><path d="M574.4,164.2 L581.8,161.2" class="r2"/><path d="M574,163.7 L581.5,160.7" class="r3"/>
<path d="M566.7,172.4 L573.3,169.8" class="r1"/><path d="M566.5,172.2 L573.1,169.6" class="r2"/><path d="M566.2,171.7 L572.7,169.1" class="r3"/>
<path d="M557.6,181.1 L565.4,177.9" class="r1"/><path d="M557.4,180.8 L565.2,177.6" class="r2"/><path d="M557,180.3 L564.9,177.1" class="r3"/>
<path d="M549.4,189.5 L556.3,186.6" class="r1"/><path d="M549.2,189.3 L556.1,186.4" class="r2"/><path d="M548.8,188.8 L555.7,185.9" class="r3"/>
<path d="M539.8,198.6 L548.1,195.1" class="r1"/><path d="M539.6,198.4 L547.9,194.8" class="r2"/><path d="M539.2,197.9 L547.5,194.3" class="r3"/>
<path d="M531.1,207.4 L538.4,204.3" class="r1"/><path d="M530.9,207.2 L538.2,204" class="r2"/><path d="M530.6,206.7 L537.9,203.5" class="r3"/>
<path d="M523.6,215.9 L529.8,213.1" class="r1"/><path d="M523.4,215.6 L529.6,212.9" class="r2"/><path d="M523,215.1 L529.3,212.4" class="r3"/>
<path d="M517.2,223.9 L522.3,221.6" class="r1"/><path d="M517,223.7 L522.1,221.4" class="r2"/><path d="M516.6,223.2 L521.7,220.9" class="r3"/>
<path d="M512,231.5 L515.8,229.7" class="r1"/><path d="M511.8,231.2 L515.6,229.5" class="r2"/><path d="M511.4,230.7 L515.3,229" class="r3"/>
<path d="M508,238.5 L510.6,237.3" class="r1"/><path d="M507.8,238.3 L510.4,237.1" class="r2"/><path d="M507.5,237.8 L510.1,236.6" class="r3"/>
<path d="M505.3,245 L506.7,244.4" class="r1"/><path d="M505.1,244.7 L506.5,244.1" class="r2"/><path d="M504.8,244.2 L506.1,243.6" class="r3"/>
<path d="M504,250.8 L504,250.8" class="r1"/><path d="M503.8,250.6 L503.8,250.6" class="r2"/><path d="M503.4,250.1 L503.4,250.1" class="r3"/>
<path d="M681.1,59.2 L681.1,59.2" class="r1"/><path d="M680.9,58.9 L680.9,58.9" class="r2"/><path d="M680.5,58.4 L680.6,58.4" class="r3"/>
<path d="M679.1,64.8 L679.8,64.6" class="r1"/><path d="M678.9,64.5 L679.6,64.3" class="r2"/><path d="M678.5,64 L679.3,63.8" class="r3"/>
<path d="M676.2,70.6 L677.8,70.2" class="r1"/><path d="M676,70.4 L677.6,69.9" class="r2"/><path d="M675.7,69.9 L677.3,69.4" class="r3"/>
<path d="M672.6,76.7 L675,76" class="r1"/><path d="M672.4,76.5 L674.8,75.8" class="r2"/><path d="M672,76 L674.4,75.3" class="r3"/>
<path d="M668.1,83.1 L671.3,82.2" class="r1"/><path d="M667.9,82.9 L671.1,81.9" class="r2"/><path d="M667.6,82.4 L670.8,81.4" class="r3"/>
<path d="M662.7,89.8 L666.9,88.6" class="r1"/><path d="M662.5,89.6 L666.7,88.3" class="r2"/><path d="M662.2,89.1 L666.3,87.8" class="r3"/>
<path d="M656.4,97 L661.5,95.3" class="r1"/><path d="M656.2,96.7 L661.3,95.1" class="r2"/><path d="M655.9,96.2 L660.9,94.6" class="r3"/>
<path d="M649.1,104.5 L655.2,102.5" class="r1"/><path d="M648.9,104.2 L655,102.2" class="r2"/><path d="M648.6,103.7 L654.6,101.7" class="r3"/>
<path d="M642.5,111.9 L647.8,110.1" class="r1"/><path d="M642.3,111.6 L647.6,109.8" class="r2"/><path d="M642,111.1 L647.3,109.3" class="r3"/>
<path d="M634.9,119.7 L641.3,117.5" class="r1"/><path d="M634.7,119.5 L641.1,117.3" class="r2"/><path d="M634.4,119 L640.7,116.8" class="r3"/>
<path d="M628,127.5 L633.6,125.5" class="r1"/><path d="M627.8,127.2 L633.4,125.2" class="r2"/><path d="M627.5,126.7 L633.1,124.7" class="r3"/>
<path d="M620.1,135.7 L626.7,133.2" class="r1"/><path d="M619.9,135.4 L626.5,133" class="r2"/><path d="M619.5,134.9 L626.2,132.5" class="r3"/>
<path d="M612.9,143.7 L618.8,141.5" class="r1"/><path d="M612.7,143.5 L618.6,141.3" class="r2"/><path d="M612.3,143 L618.2,140.8" class="r3"/>
<path d="M604.6,152.3 L611.6,149.6" class="r1"/><path d="M604.4,152.1 L611.4,149.4" class="r2"/><path d="M604,151.6 L611,148.9" class="r3"/>
<path d="M597.1,160.8 L603.2,158.3" class="r1"/><path d="M596.9,160.5 L603,158" class="r2"/><path d="M596.5,160 L602.7,157.5" class="r3"/>
<path d="M588.3,169.8 L595.7,166.7" class="r1"/><path d="M588.1,169.5 L595.5,166.5" class="r2"/><path d="M587.8,169 L595.2,166" class="r3"/>
<path d="M580.5,178.6 L587,175.8" class="r1"/><path d="M580.3,178.3 L586.8,175.6" class="r2"/><path d="M579.9,177.8 L586.5,175.1" class="r3"/>
<path d="M571.4,188 L579.2,184.7" class="r1"/><path d="M571.2,187.8 L579,184.4" class="r2"/><path d="M570.8,187.3 L578.6,183.9" class="r3"/>
<path d="M563.1,197.2 L570,194.2" class="r1"/><path d="M562.9,197 L569.8,194" class="r2"/><path d="M562.6,196.5 L569.5,193.5" class="r3"/>
<path d="M553.5,207.2 L561.8,203.5" class="r1"/><path d="M553.3,206.9 L561.6,203.2" class="r2"/><path d="M553,206.4 L561.2,202.7" class="r3"/>
<path d="M544.9,216.8 L552.2,213.5" class="r1"/><path d="M544.7,216.6 L552,213.2" class="r2"/><path d="M544.4,216.1 L551.6,212.7" class="r3"/>
<path d="M537.4,226.1 L543.6,223.2" class="r1"/><path d="M537.2,225.8 L543.4,222.9" class="r2"/><path d="M536.8,225.3 L543,222.4" class="r3"/>
<path d="M530.9,234.9 L536,232.5" class="r1"/><path d="M530.7,234.7 L535.8,232.3" class="r2"/><path d="M530.4,234.2 L535.4,231.8" class="r3"/>
<path d="M525.7,243.3 L529.6,241.4" class="r1"/><path d="M525.5,243 L529.4,241.1" class="r2"/><path d="M525.2,242.5 L529,240.6" class="r3"/>
<path d="M521.7,251 L524.3,249.7" class="r1"/><path d="M521.5,250.8 L524.1,249.5" class="r2"/><path d="M521.2,250.3 L523.8,249" class="r3"/>
<path d="M519,258.2 L520.3,257.5" class="r1"/><path d="M518.8,258 L520.1,257.3" class="r2"/><path d="M518.5,257.5 L519.8,256.8" class="r3"/>
<path d="M517.6,264.7 L517.7,264.7" class="r1"/><path d="M517.4,264.5 L517.5,264.5" class="r2"/><path d="M517.1,264 L517.1,264" class="r3"/>
<path d="M562,283.5h0M571.5,288h0M581,292h0" stroke="#bbb" stroke-width="1" stroke-linecap="round"/>
</svg>
</body></html>
